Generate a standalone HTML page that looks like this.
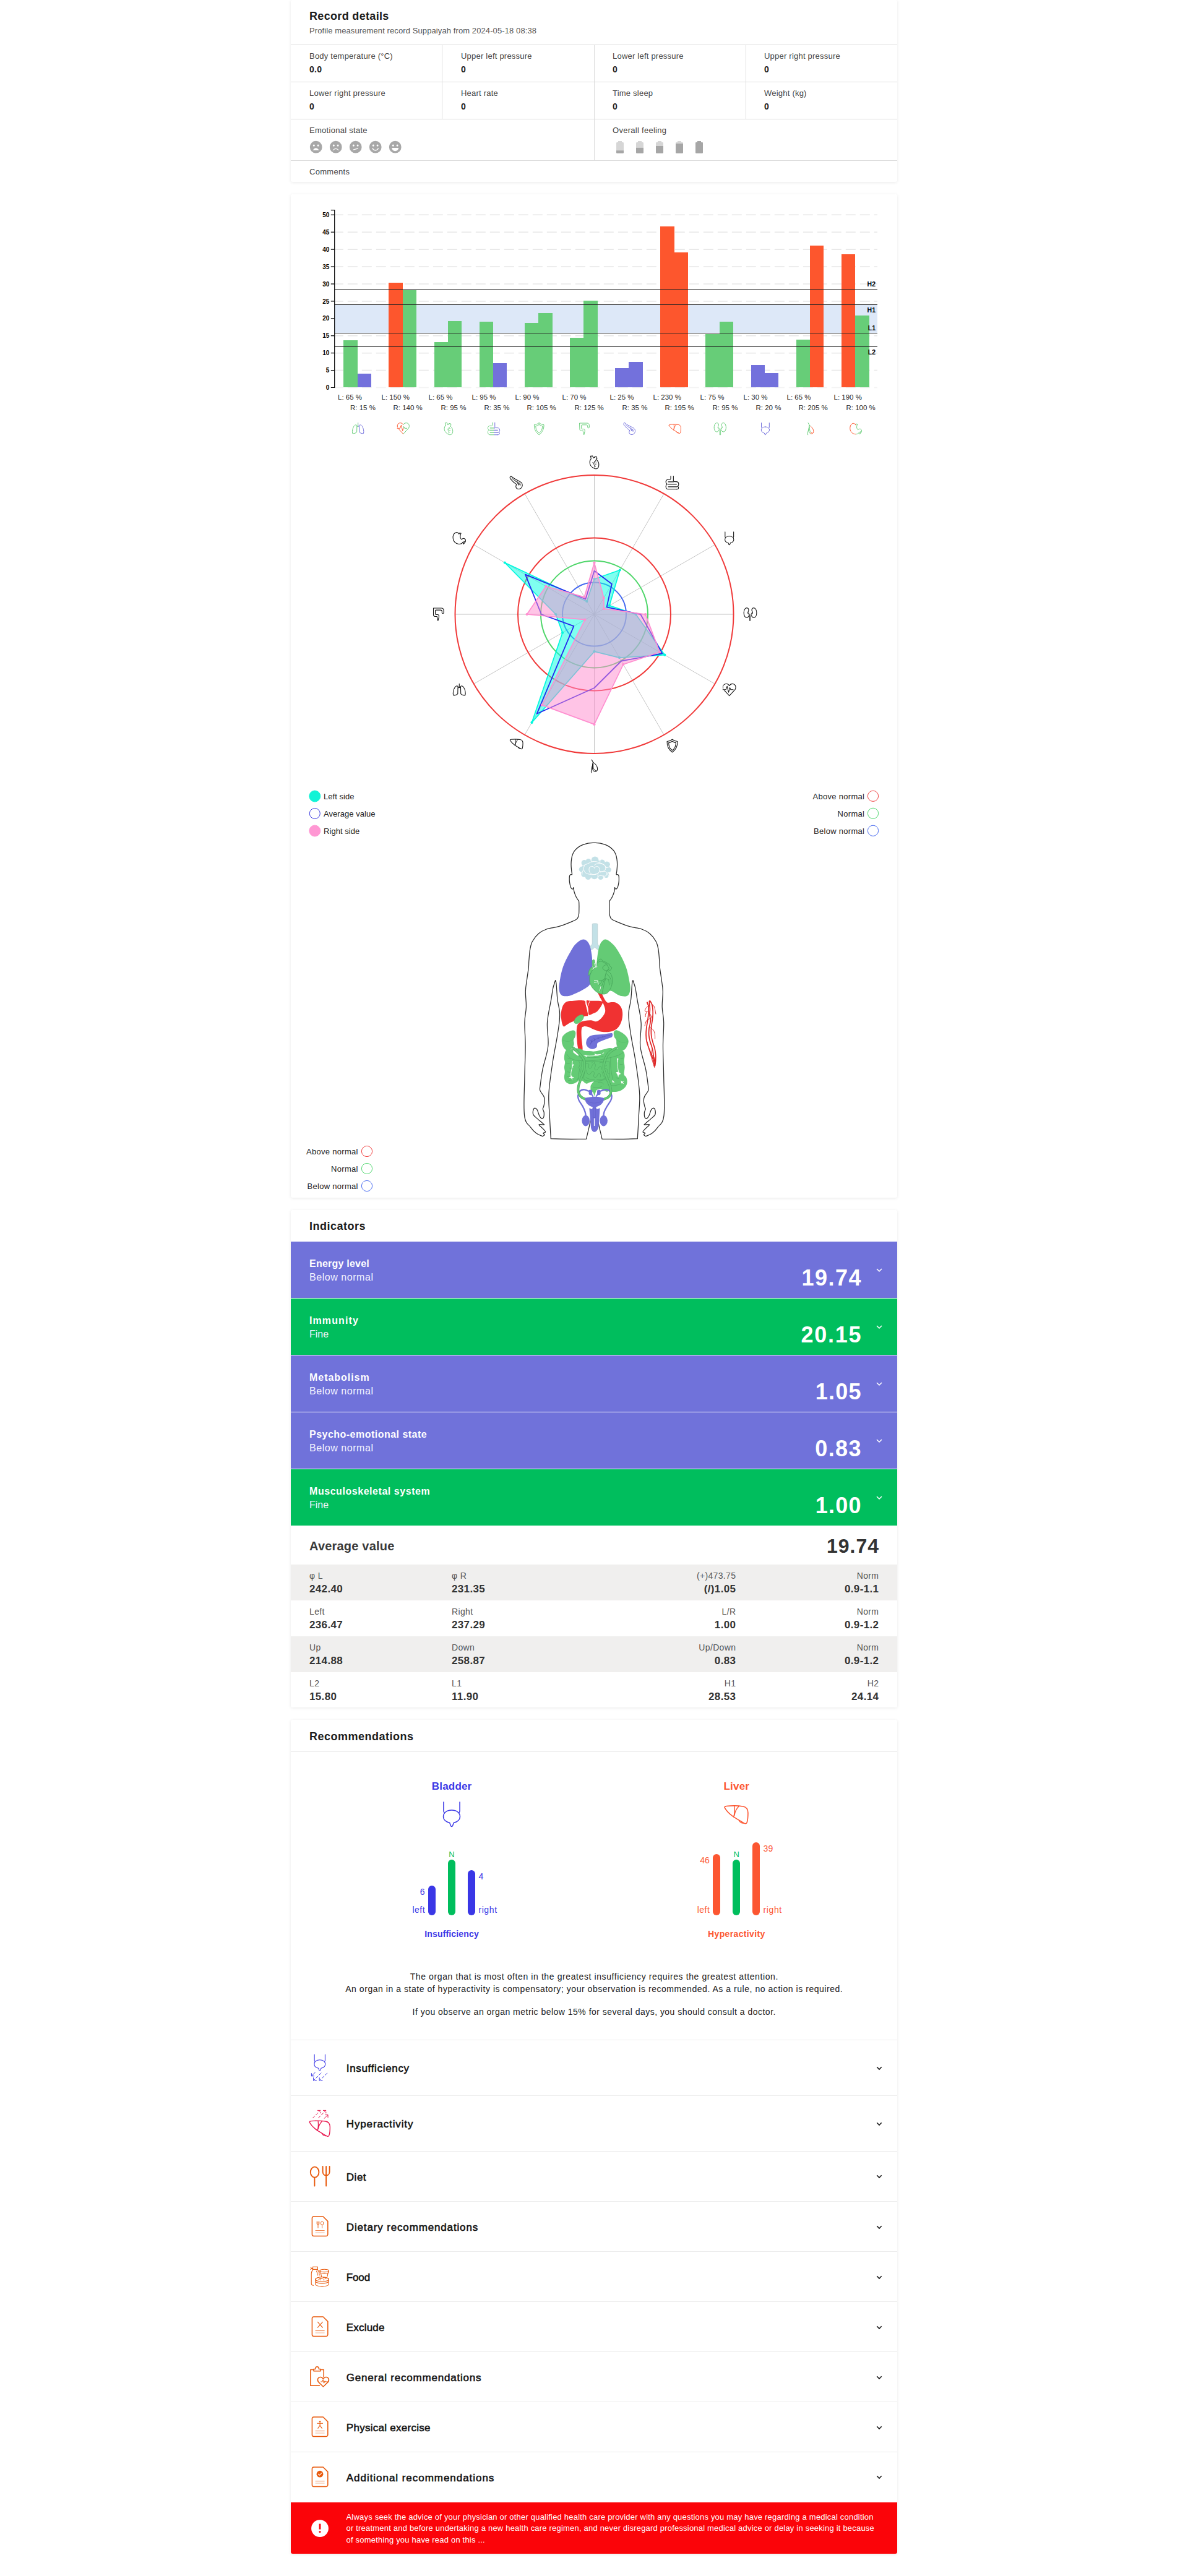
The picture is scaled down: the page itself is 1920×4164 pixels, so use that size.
<!DOCTYPE html>
<html><head><meta charset="utf-8"><title>Record details</title>
<style>
html,body{margin:0;padding:0;background:#fff;}
body{font-family:"Liberation Sans",sans-serif;}
#pg{position:relative;width:1920px;height:4164px;overflow:hidden;background:#fff;}
.t{position:absolute;white-space:nowrap;line-height:1;display:block;}
.b{position:absolute;display:block;}
</style></head>
<body><div id="pg">
<div class="b" style="left:470px;top:314px;width:980px;height:1622px;background:#fff;border-radius:3px;box-shadow:0 1px 5px rgba(0,0,0,.09);"></div>
<div class="b" style="left:470px;top:0px;width:980px;height:294px;background:#fff;border-radius:3px;box-shadow:0 1px 5px rgba(0,0,0,.09);"></div>
<span class="t" style="top:16.76px;font-size:18px;color:#1c1c1c;font-weight:700;letter-spacing:0.33px;left:500.00px;">Record details</span>
<span class="t" style="top:43.00px;font-size:13px;color:#555;letter-spacing:0.1px;left:500.00px;">Profile measurement record Suppaiyah from 2024-05-18 08:38</span>
<div class="b" style="left:470px;top:72px;width:980px;height:1px;background:#dcdcdc;"></div>
<div class="b" style="left:470px;top:132px;width:980px;height:1px;background:#dcdcdc;"></div>
<div class="b" style="left:470px;top:192px;width:980px;height:1px;background:#dcdcdc;"></div>
<div class="b" style="left:470px;top:259px;width:980px;height:1px;background:#dcdcdc;"></div>
<div class="b" style="left:714px;top:72px;width:1px;height:120px;background:#dcdcdc;"></div>
<div class="b" style="left:960px;top:72px;width:1px;height:120px;background:#dcdcdc;"></div>
<div class="b" style="left:1205px;top:72px;width:1px;height:120px;background:#dcdcdc;"></div>
<div class="b" style="left:960px;top:192px;width:1px;height:67px;background:#dcdcdc;"></div>
<span class="t" style="top:84.00px;font-size:13px;color:#444;letter-spacing:0.22px;left:500.00px;">Body temperature (°C)</span>
<span class="t" style="top:104.95px;font-size:14px;color:#222;font-weight:700;letter-spacing:0.3px;left:500.00px;">0.0</span>
<span class="t" style="top:84.00px;font-size:13px;color:#444;letter-spacing:0.22px;left:745.00px;">Upper left pressure</span>
<span class="t" style="top:104.95px;font-size:14px;color:#222;font-weight:700;letter-spacing:0.3px;left:745.00px;">0</span>
<span class="t" style="top:84.00px;font-size:13px;color:#444;letter-spacing:0.22px;left:990.00px;">Lower left pressure</span>
<span class="t" style="top:104.95px;font-size:14px;color:#222;font-weight:700;letter-spacing:0.3px;left:990.00px;">0</span>
<span class="t" style="top:84.00px;font-size:13px;color:#444;letter-spacing:0.22px;left:1235.00px;">Upper right pressure</span>
<span class="t" style="top:104.95px;font-size:14px;color:#222;font-weight:700;letter-spacing:0.3px;left:1235.00px;">0</span>
<span class="t" style="top:144.00px;font-size:13px;color:#444;letter-spacing:0.22px;left:500.00px;">Lower right pressure</span>
<span class="t" style="top:164.95px;font-size:14px;color:#222;font-weight:700;letter-spacing:0.3px;left:500.00px;">0</span>
<span class="t" style="top:144.00px;font-size:13px;color:#444;letter-spacing:0.22px;left:745.00px;">Heart rate</span>
<span class="t" style="top:164.95px;font-size:14px;color:#222;font-weight:700;letter-spacing:0.3px;left:745.00px;">0</span>
<span class="t" style="top:144.00px;font-size:13px;color:#444;letter-spacing:0.22px;left:990.00px;">Time sleep</span>
<span class="t" style="top:164.95px;font-size:14px;color:#222;font-weight:700;letter-spacing:0.3px;left:990.00px;">0</span>
<span class="t" style="top:144.00px;font-size:13px;color:#444;letter-spacing:0.22px;left:1235.00px;">Weight (kg)</span>
<span class="t" style="top:164.95px;font-size:14px;color:#222;font-weight:700;letter-spacing:0.3px;left:1235.00px;">0</span>
<span class="t" style="top:204.00px;font-size:13px;color:#444;letter-spacing:0.28px;left:500.00px;">Emotional state</span>
<span class="t" style="top:204.00px;font-size:13px;color:#444;letter-spacing:0.28px;left:990.00px;">Overall feeling</span>
<span class="t" style="top:270.50px;font-size:13px;color:#444;letter-spacing:0.3px;left:500.00px;">Comments</span>
<svg class="b" style="left:490px;top:220px" width="760" height="40" viewBox="490 220 760 40">
<circle cx="510.7" cy="237.7" r="9.9" fill="#a8a8a8"/><circle cx="507.3" cy="235.1" r="1.55" fill="#fff"/><circle cx="514.1" cy="235.1" r="1.55" fill="#fff"/><path d="M505.5 242.89999999999998Q510.7 235.5 515.9 242.89999999999998Z" fill="#fff"/>
<circle cx="542.7" cy="237.7" r="9.9" fill="#a8a8a8"/><circle cx="539.3000000000001" cy="235.1" r="1.55" fill="#fff"/><circle cx="546.1" cy="235.1" r="1.55" fill="#fff"/><path d="M538.1 242.89999999999998Q542.7 237.89999999999998 547.3000000000001 242.89999999999998" fill="none" stroke="#fff" stroke-width="1.4"/>
<circle cx="574.7" cy="237.7" r="9.9" fill="#a8a8a8"/><circle cx="571.3000000000001" cy="235.1" r="1.55" fill="#fff"/><circle cx="578.1" cy="235.1" r="1.55" fill="#fff"/><path d="M570.7 242.1L578.9000000000001 239.89999999999998" fill="none" stroke="#fff" stroke-width="1.4"/>
<circle cx="606.7" cy="237.7" r="9.9" fill="#a8a8a8"/><circle cx="603.3000000000001" cy="235.1" r="1.55" fill="#fff"/><circle cx="610.1" cy="235.1" r="1.55" fill="#fff"/><path d="M601.7 239.7Q606.7 246.29999999999998 611.7 239.7" fill="none" stroke="#fff" stroke-width="1.5"/>
<circle cx="638.7" cy="237.7" r="9.9" fill="#a8a8a8"/><circle cx="635.3000000000001" cy="235.1" r="1.55" fill="#fff"/><circle cx="642.1" cy="235.1" r="1.55" fill="#fff"/><path d="M633.1 239.1H644.3000000000001Q643.3000000000001 244.29999999999998 638.7 244.29999999999998Q634.1 244.29999999999998 633.1 239.1Z" fill="#fff"/>
<clipPath id="bc0"><path d="M999 228h6v2h1.6a1.4 1.4 0 0 1 1.4 1.4v15a1.4 1.4 0 0 1 -1.4 1.4h-9.2a1.4 1.4 0 0 1 -1.4 -1.4v-15a1.4 1.4 0 0 1 1.4 -1.4h1.6z"/></clipPath><g clip-path="url(#bc0)"><rect x="996" y="228" width="12" height="20" fill="#d6d6d6"/><rect x="996" y="243.3" width="12" height="4.699999999999989" fill="#a6a6a6"/></g>
<clipPath id="bc1"><path d="M1031 228h6v2h1.6a1.4 1.4 0 0 1 1.4 1.4v15a1.4 1.4 0 0 1 -1.4 1.4h-9.2a1.4 1.4 0 0 1 -1.4 -1.4v-15a1.4 1.4 0 0 1 1.4 -1.4h1.6z"/></clipPath><g clip-path="url(#bc1)"><rect x="1028" y="228" width="12" height="20" fill="#d6d6d6"/><rect x="1028" y="238.9" width="12" height="9.099999999999994" fill="#a6a6a6"/></g>
<clipPath id="bc2"><path d="M1063 228h6v2h1.6a1.4 1.4 0 0 1 1.4 1.4v15a1.4 1.4 0 0 1 -1.4 1.4h-9.2a1.4 1.4 0 0 1 -1.4 -1.4v-15a1.4 1.4 0 0 1 1.4 -1.4h1.6z"/></clipPath><g clip-path="url(#bc2)"><rect x="1060" y="228" width="12" height="20" fill="#d6d6d6"/><rect x="1060" y="236.0" width="12" height="12.0" fill="#a6a6a6"/></g>
<clipPath id="bc3"><path d="M1095 228h6v2h1.6a1.4 1.4 0 0 1 1.4 1.4v15a1.4 1.4 0 0 1 -1.4 1.4h-9.2a1.4 1.4 0 0 1 -1.4 -1.4v-15a1.4 1.4 0 0 1 1.4 -1.4h1.6z"/></clipPath><g clip-path="url(#bc3)"><rect x="1092" y="228" width="12" height="20" fill="#d6d6d6"/><rect x="1092" y="232.2" width="12" height="15.800000000000011" fill="#a6a6a6"/></g>
<clipPath id="bc4"><path d="M1127 228h6v2h1.6a1.4 1.4 0 0 1 1.4 1.4v15a1.4 1.4 0 0 1 -1.4 1.4h-9.2a1.4 1.4 0 0 1 -1.4 -1.4v-15a1.4 1.4 0 0 1 1.4 -1.4h1.6z"/></clipPath><g clip-path="url(#bc4)"><rect x="1124" y="228" width="12" height="20" fill="#d6d6d6"/><rect x="1124" y="228.0" width="12" height="20.0" fill="#a6a6a6"/></g>
</svg>
<svg class="b" style="left:470px;top:314px" width="980" height="420" viewBox="470 314 980 420">
<defs><linearGradient id="gfd562dfd562d" gradientUnits="userSpaceOnUse" x1="0" x2="20" y1="0" y2="0"><stop offset="0.5" stop-color="#fd562d"/><stop offset="0.5" stop-color="#fd562d"/></linearGradient><linearGradient id="g67cd78fd562d" gradientUnits="userSpaceOnUse" x1="0" x2="20" y1="0" y2="0"><stop offset="0.5" stop-color="#67cd78"/><stop offset="0.5" stop-color="#fd562d"/></linearGradient><linearGradient id="g7371dc7371dc" gradientUnits="userSpaceOnUse" x1="0" x2="20" y1="0" y2="0"><stop offset="0.5" stop-color="#7371dc"/><stop offset="0.5" stop-color="#7371dc"/></linearGradient><linearGradient id="gfd562d67cd78" gradientUnits="userSpaceOnUse" x1="0" x2="20" y1="0" y2="0"><stop offset="0.5" stop-color="#fd562d"/><stop offset="0.5" stop-color="#67cd78"/></linearGradient><linearGradient id="g67cd787371dc" gradientUnits="userSpaceOnUse" x1="0" x2="20" y1="0" y2="0"><stop offset="0.5" stop-color="#67cd78"/><stop offset="0.5" stop-color="#7371dc"/></linearGradient><linearGradient id="g67cd7867cd78" gradientUnits="userSpaceOnUse" x1="0" x2="20" y1="0" y2="0"><stop offset="0.5" stop-color="#67cd78"/><stop offset="0.5" stop-color="#67cd78"/></linearGradient></defs>
<line x1="538.8" x2="1418" y1="626.50" y2="626.50" stroke="#f3f3f3" stroke-width="1.5" stroke-dasharray="16 7"/><line x1="538.8" x2="1418" y1="598.58" y2="598.58" stroke="#e7e7e7" stroke-width="1.5" stroke-dasharray="16 7"/><line x1="538.8" x2="1418" y1="570.66" y2="570.66" stroke="#e7e7e7" stroke-width="1.5" stroke-dasharray="16 7"/><line x1="538.8" x2="1418" y1="542.74" y2="542.74" stroke="#e7e7e7" stroke-width="1.5" stroke-dasharray="16 7"/><line x1="538.8" x2="1418" y1="514.82" y2="514.82" stroke="#e7e7e7" stroke-width="1.5" stroke-dasharray="16 7"/><line x1="538.8" x2="1418" y1="486.90" y2="486.90" stroke="#e7e7e7" stroke-width="1.5" stroke-dasharray="16 7"/><line x1="538.8" x2="1418" y1="458.98" y2="458.98" stroke="#e7e7e7" stroke-width="1.5" stroke-dasharray="16 7"/><line x1="538.8" x2="1418" y1="431.06" y2="431.06" stroke="#e7e7e7" stroke-width="1.5" stroke-dasharray="16 7"/><line x1="538.8" x2="1418" y1="403.14" y2="403.14" stroke="#e7e7e7" stroke-width="1.5" stroke-dasharray="16 7"/><line x1="538.8" x2="1418" y1="375.22" y2="375.22" stroke="#e7e7e7" stroke-width="1.5" stroke-dasharray="16 7"/><line x1="538.8" x2="1418" y1="347.30" y2="347.30" stroke="#e7e7e7" stroke-width="1.5" stroke-dasharray="16 7"/>
<rect x="541" y="492.5" width="877" height="46" fill="#dde8f8"/>
<g shape-rendering="crispEdges"><rect x="555.30" y="550.00" width="22.35" height="76.00" fill="#67cd78"/><rect x="577.65" y="604.00" width="22.35" height="22.00" fill="#7371dc"/>
<rect x="628.44" y="457.03" width="22.35" height="168.97" fill="#fd562d"/><rect x="650.79" y="469.03" width="22.35" height="156.97" fill="#67cd78"/>
<rect x="701.58" y="553.01" width="22.35" height="72.99" fill="#67cd78"/><rect x="723.93" y="519.01" width="22.35" height="106.99" fill="#67cd78"/>
<rect x="774.72" y="520.01" width="22.35" height="105.99" fill="#67cd78"/><rect x="797.07" y="587.02" width="22.35" height="38.98" fill="#7371dc"/>
<rect x="847.86" y="522.08" width="22.35" height="103.92" fill="#67cd78"/><rect x="870.21" y="505.89" width="22.35" height="120.11" fill="#67cd78"/>
<rect x="921.00" y="546.09" width="22.35" height="79.91" fill="#67cd78"/><rect x="943.35" y="486.01" width="22.35" height="139.99" fill="#67cd78"/>
<rect x="994.14" y="595.01" width="22.35" height="30.99" fill="#7371dc"/><rect x="1016.49" y="585.01" width="22.35" height="40.99" fill="#7371dc"/>
<rect x="1067.28" y="366.06" width="22.35" height="259.94" fill="#fd562d"/><rect x="1089.63" y="408.17" width="22.35" height="217.83" fill="#fd562d"/>
<rect x="1140.42" y="539.95" width="22.35" height="86.05" fill="#67cd78"/><rect x="1162.77" y="520.01" width="22.35" height="105.99" fill="#67cd78"/>
<rect x="1213.56" y="590.20" width="22.35" height="35.80" fill="#7371dc"/><rect x="1235.91" y="603.05" width="22.35" height="22.95" fill="#7371dc"/>
<rect x="1286.70" y="548.88" width="22.35" height="77.12" fill="#67cd78"/><rect x="1309.05" y="397.00" width="22.35" height="229.00" fill="#fd562d"/>
<rect x="1359.84" y="410.96" width="22.35" height="215.04" fill="#fd562d"/><rect x="1382.19" y="510.02" width="22.35" height="115.98" fill="#67cd78"/>
</g><line x1="541" x2="1418" y1="467.5" y2="467.5" stroke="#222" stroke-width="1"/><line x1="541" x2="1418" y1="492.5" y2="492.5" stroke="#222" stroke-width="1"/><line x1="541" x2="1418" y1="538.5" y2="538.5" stroke="#222" stroke-width="1"/><line x1="541" x2="1418" y1="560.5" y2="560.5" stroke="#222" stroke-width="1"/>
<path d="M534.8 339.7H540.7V626.5H534.8" fill="none" stroke="#000" stroke-width="1.2"/><line x1="534.8" x2="540.7" y1="598.58" y2="598.58" stroke="#000" stroke-width="1.2"/><line x1="534.8" x2="540.7" y1="570.66" y2="570.66" stroke="#000" stroke-width="1.2"/><line x1="534.8" x2="540.7" y1="542.74" y2="542.74" stroke="#000" stroke-width="1.2"/><line x1="534.8" x2="540.7" y1="514.82" y2="514.82" stroke="#000" stroke-width="1.2"/><line x1="534.8" x2="540.7" y1="486.90" y2="486.90" stroke="#000" stroke-width="1.2"/><line x1="534.8" x2="540.7" y1="458.98" y2="458.98" stroke="#000" stroke-width="1.2"/><line x1="534.8" x2="540.7" y1="431.06" y2="431.06" stroke="#000" stroke-width="1.2"/><line x1="534.8" x2="540.7" y1="403.14" y2="403.14" stroke="#000" stroke-width="1.2"/><line x1="534.8" x2="540.7" y1="375.22" y2="375.22" stroke="#000" stroke-width="1.2"/><line x1="534.8" x2="540.7" y1="347.30" y2="347.30" stroke="#000" stroke-width="1.2"/>
<g transform="translate(568.65,683.20) scale(1.0)" fill="none" stroke="url(#g67cd787371dc)" stroke-linecap="round" stroke-linejoin="round"><path d="M10 0.3V6M10 5.3L8.1 6.6M10 5.3L11.9 6.6" stroke-width="1.00"/><path d="M8 4.3C6.6 2.9 4.6 3.6 3.2 6C1.2 9.4 0.3 13.4 1.1 17.3C3.4 17.9 6.1 17.1 7.7 15.5Z" stroke-width="1.00"/><path d="M12 4.3C13.4 2.9 15.4 3.6 16.8 6C18.8 9.4 19.7 13.4 18.9 17.3C16.6 17.9 13.9 17.1 12.3 15.5Z" stroke-width="1.00"/></g>
<g transform="translate(641.79,683.20) scale(1.0)" fill="none" stroke="url(#gfd562d67cd78)" stroke-linecap="round" stroke-linejoin="round"><path d="M0.6 7.2C-0.2 4.4 1 1.6 3.6 0.7C6 -0.1 8.6 0.9 10 3.2C11.4 0.9 14 -0.1 16.4 0.7C19.4 1.8 20.6 5.6 18.6 9L10 18.3L2.6 10.4" stroke-width="1.00"/><path d="M0.3 9.1H4.8L6.7 4L8.9 13.1L10.7 6.1L12.1 9.1H15.8" stroke-width="1.00"/></g>
<g transform="translate(714.93,683.20) scale(1.0)" fill="none" stroke="url(#g67cd7867cd78)" stroke-linecap="round" stroke-linejoin="round"><path d="M5.2 4.6L4.4 0.6L7.4 0.2L8.6 3.4L11 2.4L10.6 1.2L13.6 1.8L14 4.2L12.6 5.4C15.6 7.6 17.4 11.6 16.6 15.6C16 18.8 13.4 20.2 10.6 19.2C6.4 17.6 3 14 3.2 9.4C3.3 7.4 4 5.8 5.2 4.6Z" stroke-width="1.00"/><path d="M12.4 6.6C10.4 8.2 9.4 10.2 9.2 12.4M10.4 8.6L12.8 9.6M9.4 11L7.6 10.2M9.4 13.4L12 15.8M11 12.6L12.8 12.4M10.6 14.6L10.2 17" stroke-width="0.80"/></g>
<g transform="translate(788.07,683.20) scale(1.0)" fill="none" stroke="url(#g67cd787371dc)" stroke-linecap="round" stroke-linejoin="round"><path d="M7.7 0V3.6C7.7 4.6 7 5.2 6 5.2H3.6C1.6 5.2 0.4 6.8 0.4 8.6C0.4 10 1.1 11.2 2.3 11.9C1.1 12.6 0.4 13.8 0.4 15.4C0.4 17.8 1.8 19.6 3.8 19.6H16.2" stroke-width="1.00"/><path d="M11.7 0V6.6C11.7 7.8 12.4 8.4 13.6 8.4H16C18.2 8.4 19.6 10 19.6 12.2C19.6 13.4 19 14.6 18 15.2C19 15.8 19.4 16.6 19.4 17.4C19.4 18.6 18.2 19.6 16.2 19.6" stroke-width="1.00"/><path d="M4.2 8.6H11.6M3.6 12.1H16.2M4.2 16H17.2" stroke-width="1.30"/></g>
<g transform="translate(861.21,683.20) scale(1.0)" fill="none" stroke="url(#g67cd7867cd78)" stroke-linecap="round" stroke-linejoin="round"><path d="M10 0.4C7.6 2.2 5 3.2 2.2 3.4C2 9.4 4.2 15.6 10 19.6C15.8 15.6 18 9.4 17.8 3.4C15 3.2 12.4 2.2 10 0.4Z" stroke-width="1.00"/><path d="M10 3.2C8.2 4.4 6.4 5.2 4.6 5.4C4.6 10 6 14 10 16.8C14 14 15.4 10 15.4 5.4C13.6 5.2 11.8 4.4 10 3.2Z" stroke-width="1.00"/></g>
<g transform="translate(934.35,683.20) scale(1.0)" fill="none" stroke="url(#g67cd7867cd78)" stroke-linecap="round" stroke-linejoin="round"><path d="M2.6 0.8H14.6C17 0.8 18 2.4 18 4.6V7.6C18 9 15.4 9 15.4 7.6V5.6C15.4 4.4 14.6 3.6 13.4 3.6H6.4C5.6 3.6 5.4 4 5.4 4.8V9.4C5.4 10.2 5.8 10.4 6.6 10.4H9C10.2 10.4 10.8 11.2 10.8 12.4V14.2L9.4 19.6L8 14.4V13.2H4.8C3.4 13.2 2.6 12.2 2.6 10.8Z" stroke-width="1.00"/></g>
<g transform="translate(1007.49,683.20) scale(1.0)" fill="none" stroke="url(#g7371dc7371dc)" stroke-linecap="round" stroke-linejoin="round"><path d="M1.4 0.4C0.2 1 0.2 2.8 1 4C4 7.6 7 10.4 10.6 12.8C9 14 8.8 16.4 10.2 18C11.8 19.8 15 19.8 17 18C19.4 15.8 19.6 12.4 18 10.2C16.8 8.6 14.4 7.6 12.4 6.6C8.6 4.8 5 2.6 2.6 0.6C2.2 0.3 1.8 0.3 1.4 0.4Z" stroke-width="1.00"/><path d="M3.4 3.4C6.8 6.2 10.6 8.6 14.6 10.6C16 11.4 16.4 13 15.6 14.4M9 7L9.6 8.6M11.8 8.6L11.4 10.6M14 10.2L13 12.4M12 11L15.4 12.6M12.6 13.6L15.4 11.4" stroke-width="0.80"/></g>
<g transform="translate(1080.63,685.80) scale(1.0)" fill="none" stroke="url(#gfd562dfd562d)" stroke-linecap="round" stroke-linejoin="round"><path d="M0.6 1.6C0.4 1 1 0.4 2 0.4C6 0 12 0 15.6 0.6C18.4 1 19.8 3 19.8 6C19.8 9 19.6 11.6 19 13.6C18.6 14.8 17.6 15 16.6 14.4C13.6 12.6 10.4 10.8 7.4 8.8C4.6 6.8 2 4.2 0.6 1.6Z" stroke-width="1.00"/><path d="M8.6 0.4C9 3.6 8.8 6.6 8 9.2M12.4 0.4C10.4 2.4 9 5.4 8.6 8M12.6 12.2C13 13.8 15.2 14.6 16.4 14.2" stroke-width="0.90"/></g>
<g transform="translate(1153.77,683.20) scale(1.0)" fill="none" stroke="url(#g67cd7867cd78)" stroke-linecap="round" stroke-linejoin="round"><path d="M8.2 11.6C7.8 13.4 6.4 14.8 4.6 14.8C2 14.8 0.4 11.6 0.4 7.8C0.4 3.8 2.2 0.4 4.8 0.4C6.8 0.4 8 2.2 7.6 4.4C7.4 5.6 6.4 6.4 6.4 7.6C6.4 8.8 7.4 9.2 8 10" stroke-width="1.00"/><path d="M11.8 11.6C12.2 13.4 13.6 14.8 15.4 14.8C18 14.8 19.6 11.6 19.6 7.8C19.6 3.8 17.8 0.4 15.2 0.4C13.2 0.4 12 2.2 12.4 4.4C12.6 5.6 13.6 6.4 13.6 7.6C13.6 8.8 12.6 9.2 12 10" stroke-width="1.00"/><path d="M7.4 7.6C8.4 8.8 9.2 10.6 9.2 12.6V19.6M12.6 7.6C11.6 8.8 10.8 10.6 10.8 12.6V19.6" stroke-width="0.80"/></g>
<g transform="translate(1226.91,683.20) scale(1.0)" fill="none" stroke="url(#g7371dc7371dc)" stroke-linecap="round" stroke-linejoin="round"><path d="M3.6 0.4V7.4C3.6 8 3.8 8.4 4.2 8.8M16.4 0.4V7.4C16.4 8 16.2 8.4 15.8 8.8" stroke-width="1.00"/><path d="M10 6.8C6 6.8 3.4 9 3.4 11.8C3.4 14.4 5.6 16.2 8.4 16.8L9.2 19C9.6 20 10.4 20 10.8 19L11.6 16.8C14.4 16.2 16.6 14.4 16.6 11.8C16.6 9 14 6.8 10 6.8Z" stroke-width="1.00"/></g>
<g transform="translate(1300.05,683.20) scale(1.0)" fill="none" stroke="url(#g67cd78fd562d)" stroke-linecap="round" stroke-linejoin="round"><path d="M6 0.4L7.4 2.6C8 3.6 8.2 4.4 8 5.4C7.4 8.8 6.4 12 5.6 15.4C5.2 17 5.2 18.4 5.6 19.6" stroke-width="1.00"/><path d="M8 5C7.2 8 6.8 12 7.6 15C8.2 17.4 10.4 18.4 12.4 17.8C14.4 17.2 15 15 14.6 12.6C14 9.4 11.6 6.6 8.6 4.6M8 5L8.6 4.6" stroke-width="1.00"/><path d="M8.4 7.4C8.2 10.4 8.6 13.4 10 15.6M10 15.6L12.8 16.8" stroke-width="0.80"/></g>
<g transform="translate(1373.19,683.20) scale(1.0)" fill="none" stroke="url(#gfd562d67cd78)" stroke-linecap="round" stroke-linejoin="round"><path d="M9.6 3.6C8.6 1.6 6.6 0.6 4.6 1.4C1.6 2.6 0.4 6.2 0.6 9.6C0.8 14.2 4.4 18.4 9.4 18.6C12.6 18.6 14.6 17.6 15.4 15.6C15.8 17 16 17.8 15.8 18.6L17.4 17.6C17.2 16.4 17 15.6 17 14.4C17.6 15.2 18.4 15.6 19 15.6C19.8 13.4 19.4 11.4 17.8 10.4C16.4 9.6 14.8 10.2 13.6 11.6C12.2 10.6 11.2 8.6 11.4 6.6C11.6 5 12 3.6 12.6 2.4L10.4 2Z" stroke-width="1.00"/></g>
</svg>
<span class="t" style="top:622.13px;font-size:10px;color:#000;font-weight:700;right:1387.70px;">0</span>
<span class="t" style="top:594.22px;font-size:10px;color:#000;font-weight:700;right:1387.70px;">5</span>
<span class="t" style="top:566.29px;font-size:10px;color:#000;font-weight:700;right:1387.70px;">10</span>
<span class="t" style="top:538.38px;font-size:10px;color:#000;font-weight:700;right:1387.70px;">15</span>
<span class="t" style="top:510.46px;font-size:10px;color:#000;font-weight:700;right:1387.70px;">20</span>
<span class="t" style="top:482.54px;font-size:10px;color:#000;font-weight:700;right:1387.70px;">25</span>
<span class="t" style="top:454.62px;font-size:10px;color:#000;font-weight:700;right:1387.70px;">30</span>
<span class="t" style="top:426.70px;font-size:10px;color:#000;font-weight:700;right:1387.70px;">35</span>
<span class="t" style="top:398.78px;font-size:10px;color:#000;font-weight:700;right:1387.70px;">40</span>
<span class="t" style="top:370.86px;font-size:10px;color:#000;font-weight:700;right:1387.70px;">45</span>
<span class="t" style="top:342.94px;font-size:10px;color:#000;font-weight:700;right:1387.70px;">50</span>
<span class="t" style="top:636.77px;font-size:11.5px;color:#2a2a2a;left:546.00px;">L: 65 %</span>
<span class="t" style="top:653.67px;font-size:11.5px;color:#2a2a2a;left:566.00px;">R: 15 %</span>
<span class="t" style="top:636.77px;font-size:11.5px;color:#2a2a2a;left:616.50px;">L: 150 %</span>
<span class="t" style="top:653.67px;font-size:11.5px;color:#2a2a2a;left:635.50px;">R: 140 %</span>
<span class="t" style="top:636.77px;font-size:11.5px;color:#2a2a2a;left:692.50px;">L: 65 %</span>
<span class="t" style="top:653.67px;font-size:11.5px;color:#2a2a2a;left:712.50px;">R: 95 %</span>
<span class="t" style="top:636.77px;font-size:11.5px;color:#2a2a2a;left:762.50px;">L: 95 %</span>
<span class="t" style="top:653.67px;font-size:11.5px;color:#2a2a2a;left:782.50px;">R: 35 %</span>
<span class="t" style="top:636.77px;font-size:11.5px;color:#2a2a2a;left:832.50px;">L: 90 %</span>
<span class="t" style="top:653.67px;font-size:11.5px;color:#2a2a2a;left:851.50px;">R: 105 %</span>
<span class="t" style="top:636.77px;font-size:11.5px;color:#2a2a2a;left:908.50px;">L: 70 %</span>
<span class="t" style="top:653.67px;font-size:11.5px;color:#2a2a2a;left:928.50px;">R: 125 %</span>
<span class="t" style="top:636.77px;font-size:11.5px;color:#2a2a2a;left:985.50px;">L: 25 %</span>
<span class="t" style="top:653.67px;font-size:11.5px;color:#2a2a2a;left:1005.50px;">R: 35 %</span>
<span class="t" style="top:636.77px;font-size:11.5px;color:#2a2a2a;left:1055.50px;">L: 230 %</span>
<span class="t" style="top:653.67px;font-size:11.5px;color:#2a2a2a;left:1074.50px;">R: 195 %</span>
<span class="t" style="top:636.77px;font-size:11.5px;color:#2a2a2a;left:1131.50px;">L: 75 %</span>
<span class="t" style="top:653.67px;font-size:11.5px;color:#2a2a2a;left:1151.50px;">R: 95 %</span>
<span class="t" style="top:636.77px;font-size:11.5px;color:#2a2a2a;left:1201.50px;">L: 30 %</span>
<span class="t" style="top:653.67px;font-size:11.5px;color:#2a2a2a;left:1221.50px;">R: 20 %</span>
<span class="t" style="top:636.77px;font-size:11.5px;color:#2a2a2a;left:1271.50px;">L: 65 %</span>
<span class="t" style="top:653.67px;font-size:11.5px;color:#2a2a2a;left:1290.50px;">R: 205 %</span>
<span class="t" style="top:636.77px;font-size:11.5px;color:#2a2a2a;left:1347.50px;">L: 190 %</span>
<span class="t" style="top:653.67px;font-size:11.5px;color:#2a2a2a;left:1367.50px;">R: 100 %</span>
<span class="t" style="top:454.41px;font-size:10.5px;color:#000;font-weight:700;right:505.00px;">H2</span>
<span class="t" style="top:496.41px;font-size:10.5px;color:#000;font-weight:700;right:505.00px;">H1</span>
<span class="t" style="top:524.91px;font-size:10.5px;color:#000;font-weight:700;right:505.00px;">L1</span>
<span class="t" style="top:564.41px;font-size:10.5px;color:#000;font-weight:700;right:505.00px;">L2</span>
<svg class="b" style="left:470px;top:730px" width="980" height="540" viewBox="470 730 980 540">
<line x1="960.5" y1="993.0" x2="960.50" y2="768.00" stroke="#c4c4c4" stroke-width="1"/><line x1="960.5" y1="993.0" x2="1073.00" y2="798.14" stroke="#c4c4c4" stroke-width="1"/><line x1="960.5" y1="993.0" x2="1155.36" y2="880.50" stroke="#c4c4c4" stroke-width="1"/><line x1="960.5" y1="993.0" x2="1185.50" y2="993.00" stroke="#c4c4c4" stroke-width="1"/><line x1="960.5" y1="993.0" x2="1155.36" y2="1105.50" stroke="#c4c4c4" stroke-width="1"/><line x1="960.5" y1="993.0" x2="1073.00" y2="1187.86" stroke="#c4c4c4" stroke-width="1"/><line x1="960.5" y1="993.0" x2="960.50" y2="1218.00" stroke="#c4c4c4" stroke-width="1"/><line x1="960.5" y1="993.0" x2="848.00" y2="1187.86" stroke="#c4c4c4" stroke-width="1"/><line x1="960.5" y1="993.0" x2="765.64" y2="1105.50" stroke="#c4c4c4" stroke-width="1"/><line x1="960.5" y1="993.0" x2="735.50" y2="993.00" stroke="#c4c4c4" stroke-width="1"/><line x1="960.5" y1="993.0" x2="765.64" y2="880.50" stroke="#c4c4c4" stroke-width="1"/><line x1="960.5" y1="993.0" x2="848.00" y2="798.14" stroke="#c4c4c4" stroke-width="1"/>
<circle cx="960.5" cy="993.0" r="225" fill="none" stroke="#f03a3a" stroke-width="2"/><circle cx="960.5" cy="993.0" r="123.5" fill="none" stroke="#f03a3a" stroke-width="2"/><circle cx="960.5" cy="993.0" r="86.5" fill="none" stroke="#4fd66a" stroke-width="2"/><circle cx="960.5" cy="993.0" r="51.5" fill="none" stroke="#4468f0" stroke-width="2"/>
<polygon points="960.5,936.0 1001.8,921.5 984.9,978.9 1027.6,993.0 1074.3,1058.7 1001.0,1063.1 960.5,1053.2 859.5,1167.9 909.1,1022.7 898.2,993.0 815.8,909.5 948.3,971.9" fill="rgba(0,255,225,0.5)" stroke="#00f8de" stroke-width="1.7" stroke-linejoin="round"/><circle cx="960.5" cy="936.0" r="2.1" fill="#00f8de"/><circle cx="1001.8" cy="921.5" r="2.1" fill="#00f8de"/><circle cx="984.9" cy="978.9" r="2.1" fill="#00f8de"/><circle cx="1027.6" cy="993.0" r="2.1" fill="#00f8de"/><circle cx="1074.3" cy="1058.7" r="2.1" fill="#00f8de"/><circle cx="1001.0" cy="1063.1" r="2.1" fill="#00f8de"/><circle cx="960.5" cy="1053.2" r="2.1" fill="#00f8de"/><circle cx="859.5" cy="1167.9" r="2.1" fill="#00f8de"/><circle cx="909.1" cy="1022.7" r="2.1" fill="#00f8de"/><circle cx="898.2" cy="993.0" r="2.1" fill="#00f8de"/><circle cx="815.8" cy="909.5" r="2.1" fill="#00f8de"/><circle cx="948.3" cy="971.9" r="2.1" fill="#00f8de"/>
<polygon points="960.5,922.8 988.8,944.0 980.6,981.4 1035.3,993.0 1070.3,1056.4 1004.1,1068.5 960.5,1112.0 867.7,1153.7 927.3,1012.2 874.9,993.0 849.0,928.6 946.4,968.5" fill="none" stroke="#2626ee" stroke-width="1.8" stroke-linejoin="round"/>
<polygon points="960.5,909.7 975.8,966.5 976.2,983.9 1043.1,993.0 1066.2,1054.0 1007.3,1074.0 960.5,1170.9 875.9,1139.6 945.4,1001.7 851.6,993.0 882.3,947.8 944.4,965.1" fill="rgba(255,137,205,0.5)" stroke="#ff8fd0" stroke-width="1.7" stroke-linejoin="round"/><circle cx="960.5" cy="909.7" r="2.1" fill="#ff8fd0"/><circle cx="975.8" cy="966.5" r="2.1" fill="#ff8fd0"/><circle cx="976.2" cy="983.9" r="2.1" fill="#ff8fd0"/><circle cx="1043.1" cy="993.0" r="2.1" fill="#ff8fd0"/><circle cx="1066.2" cy="1054.0" r="2.1" fill="#ff8fd0"/><circle cx="1007.3" cy="1074.0" r="2.1" fill="#ff8fd0"/><circle cx="960.5" cy="1170.9" r="2.1" fill="#ff8fd0"/><circle cx="875.9" cy="1139.6" r="2.1" fill="#ff8fd0"/><circle cx="945.4" cy="1001.7" r="2.1" fill="#ff8fd0"/><circle cx="851.6" cy="993.0" r="2.1" fill="#ff8fd0"/><circle cx="882.3" cy="947.8" r="2.1" fill="#ff8fd0"/><circle cx="944.4" cy="965.1" r="2.1" fill="#ff8fd0"/>
<g transform="translate(949.70,736.70) scale(1.08)" fill="none" stroke="#111" stroke-linecap="round" stroke-linejoin="round"><path d="M5.2 4.6L4.4 0.6L7.4 0.2L8.6 3.4L11 2.4L10.6 1.2L13.6 1.8L14 4.2L12.6 5.4C15.6 7.6 17.4 11.6 16.6 15.6C16 18.8 13.4 20.2 10.6 19.2C6.4 17.6 3 14 3.2 9.4C3.3 7.4 4 5.8 5.2 4.6Z" stroke-width="1.00"/><path d="M12.4 6.6C10.4 8.2 9.4 10.2 9.2 12.4M10.4 8.6L12.8 9.6M9.4 11L7.6 10.2M9.4 13.4L12 15.8M11 12.6L12.8 12.4M10.6 14.6L10.2 17" stroke-width="0.80"/></g>
<g transform="translate(1075.70,769.59) scale(1.08)" fill="none" stroke="#111" stroke-linecap="round" stroke-linejoin="round"><path d="M7.7 0V3.6C7.7 4.6 7 5.2 6 5.2H3.6C1.6 5.2 0.4 6.8 0.4 8.6C0.4 10 1.1 11.2 2.3 11.9C1.1 12.6 0.4 13.8 0.4 15.4C0.4 17.8 1.8 19.6 3.8 19.6H16.2" stroke-width="1.00"/><path d="M11.7 0V6.6C11.7 7.8 12.4 8.4 13.6 8.4H16C18.2 8.4 19.6 10 19.6 12.2C19.6 13.4 19 14.6 18 15.2C19 15.8 19.4 16.6 19.4 17.4C19.4 18.6 18.2 19.6 16.2 19.6" stroke-width="1.00"/><path d="M4.2 8.6H11.6M3.6 12.1H16.2M4.2 16H17.2" stroke-width="1.30"/></g>
<g transform="translate(1167.94,859.45) scale(1.08)" fill="none" stroke="#111" stroke-linecap="round" stroke-linejoin="round"><path d="M3.6 0.4V7.4C3.6 8 3.8 8.4 4.2 8.8M16.4 0.4V7.4C16.4 8 16.2 8.4 15.8 8.8" stroke-width="1.00"/><path d="M10 6.8C6 6.8 3.4 9 3.4 11.8C3.4 14.4 5.6 16.2 8.4 16.8L9.2 19C9.6 20 10.4 20 10.8 19L11.6 16.8C14.4 16.2 16.6 14.4 16.6 11.8C16.6 9 14 6.8 10 6.8Z" stroke-width="1.00"/></g>
<g transform="translate(1201.70,982.20) scale(1.08)" fill="none" stroke="#111" stroke-linecap="round" stroke-linejoin="round"><path d="M8.2 11.6C7.8 13.4 6.4 14.8 4.6 14.8C2 14.8 0.4 11.6 0.4 7.8C0.4 3.8 2.2 0.4 4.8 0.4C6.8 0.4 8 2.2 7.6 4.4C7.4 5.6 6.4 6.4 6.4 7.6C6.4 8.8 7.4 9.2 8 10" stroke-width="1.00"/><path d="M11.8 11.6C12.2 13.4 13.6 14.8 15.4 14.8C18 14.8 19.6 11.6 19.6 7.8C19.6 3.8 17.8 0.4 15.2 0.4C13.2 0.4 12 2.2 12.4 4.4C12.6 5.6 13.6 6.4 13.6 7.6C13.6 8.8 12.6 9.2 12 10" stroke-width="1.00"/><path d="M7.4 7.6C8.4 8.8 9.2 10.6 9.2 12.6V19.6M12.6 7.6C11.6 8.8 10.8 10.6 10.8 12.6V19.6" stroke-width="0.80"/></g>
<g transform="translate(1167.94,1104.95) scale(1.08)" fill="none" stroke="#111" stroke-linecap="round" stroke-linejoin="round"><path d="M0.6 7.2C-0.2 4.4 1 1.6 3.6 0.7C6 -0.1 8.6 0.9 10 3.2C11.4 0.9 14 -0.1 16.4 0.7C19.4 1.8 20.6 5.6 18.6 9L10 18.3L2.6 10.4" stroke-width="1.00"/><path d="M0.3 9.1H4.8L6.7 4L8.9 13.1L10.7 6.1L12.1 9.1H15.8" stroke-width="1.00"/></g>
<g transform="translate(1075.70,1194.81) scale(1.08)" fill="none" stroke="#111" stroke-linecap="round" stroke-linejoin="round"><path d="M10 0.4C7.6 2.2 5 3.2 2.2 3.4C2 9.4 4.2 15.6 10 19.6C15.8 15.6 18 9.4 17.8 3.4C15 3.2 12.4 2.2 10 0.4Z" stroke-width="1.00"/><path d="M10 3.2C8.2 4.4 6.4 5.2 4.6 5.4C4.6 10 6 14 10 16.8C14 14 15.4 10 15.4 5.4C13.6 5.2 11.8 4.4 10 3.2Z" stroke-width="1.00"/></g>
<g transform="translate(949.70,1227.70) scale(1.08)" fill="none" stroke="#111" stroke-linecap="round" stroke-linejoin="round"><path d="M6 0.4L7.4 2.6C8 3.6 8.2 4.4 8 5.4C7.4 8.8 6.4 12 5.6 15.4C5.2 17 5.2 18.4 5.6 19.6" stroke-width="1.00"/><path d="M8 5C7.2 8 6.8 12 7.6 15C8.2 17.4 10.4 18.4 12.4 17.8C14.4 17.2 15 15 14.6 12.6C14 9.4 11.6 6.6 8.6 4.6M8 5L8.6 4.6" stroke-width="1.00"/><path d="M8.4 7.4C8.2 10.4 8.6 13.4 10 15.6M10 15.6L12.8 16.8" stroke-width="0.80"/></g>
<g transform="translate(823.70,1194.81) scale(1.08)" fill="none" stroke="#111" stroke-linecap="round" stroke-linejoin="round"><path d="M0.6 1.6C0.4 1 1 0.4 2 0.4C6 0 12 0 15.6 0.6C18.4 1 19.8 3 19.8 6C19.8 9 19.6 11.6 19 13.6C18.6 14.8 17.6 15 16.6 14.4C13.6 12.6 10.4 10.8 7.4 8.8C4.6 6.8 2 4.2 0.6 1.6Z" stroke-width="1.00"/><path d="M8.6 0.4C9 3.6 8.8 6.6 8 9.2M12.4 0.4C10.4 2.4 9 5.4 8.6 8M12.6 12.2C13 13.8 15.2 14.6 16.4 14.2" stroke-width="0.90"/></g>
<g transform="translate(731.46,1104.95) scale(1.08)" fill="none" stroke="#111" stroke-linecap="round" stroke-linejoin="round"><path d="M10 0.3V6M10 5.3L8.1 6.6M10 5.3L11.9 6.6" stroke-width="1.00"/><path d="M8 4.3C6.6 2.9 4.6 3.6 3.2 6C1.2 9.4 0.3 13.4 1.1 17.3C3.4 17.9 6.1 17.1 7.7 15.5Z" stroke-width="1.00"/><path d="M12 4.3C13.4 2.9 15.4 3.6 16.8 6C18.8 9.4 19.7 13.4 18.9 17.3C16.6 17.9 13.9 17.1 12.3 15.5Z" stroke-width="1.00"/></g>
<g transform="translate(697.70,982.20) scale(1.08)" fill="none" stroke="#111" stroke-linecap="round" stroke-linejoin="round"><path d="M2.6 0.8H14.6C17 0.8 18 2.4 18 4.6V7.6C18 9 15.4 9 15.4 7.6V5.6C15.4 4.4 14.6 3.6 13.4 3.6H6.4C5.6 3.6 5.4 4 5.4 4.8V9.4C5.4 10.2 5.8 10.4 6.6 10.4H9C10.2 10.4 10.8 11.2 10.8 12.4V14.2L9.4 19.6L8 14.4V13.2H4.8C3.4 13.2 2.6 12.2 2.6 10.8Z" stroke-width="1.00"/></g>
<g transform="translate(731.46,859.45) scale(1.08)" fill="none" stroke="#111" stroke-linecap="round" stroke-linejoin="round"><path d="M9.6 3.6C8.6 1.6 6.6 0.6 4.6 1.4C1.6 2.6 0.4 6.2 0.6 9.6C0.8 14.2 4.4 18.4 9.4 18.6C12.6 18.6 14.6 17.6 15.4 15.6C15.8 17 16 17.8 15.8 18.6L17.4 17.6C17.2 16.4 17 15.6 17 14.4C17.6 15.2 18.4 15.6 19 15.6C19.8 13.4 19.4 11.4 17.8 10.4C16.4 9.6 14.8 10.2 13.6 11.6C12.2 10.6 11.2 8.6 11.4 6.6C11.6 5 12 3.6 12.6 2.4L10.4 2Z" stroke-width="1.00"/></g>
<g transform="translate(823.70,769.59) scale(1.08)" fill="none" stroke="#111" stroke-linecap="round" stroke-linejoin="round"><path d="M1.4 0.4C0.2 1 0.2 2.8 1 4C4 7.6 7 10.4 10.6 12.8C9 14 8.8 16.4 10.2 18C11.8 19.8 15 19.8 17 18C19.4 15.8 19.6 12.4 18 10.2C16.8 8.6 14.4 7.6 12.4 6.6C8.6 4.8 5 2.6 2.6 0.6C2.2 0.3 1.8 0.3 1.4 0.4Z" stroke-width="1.00"/><path d="M3.4 3.4C6.8 6.2 10.6 8.6 14.6 10.6C16 11.4 16.4 13 15.6 14.4M9 7L9.6 8.6M11.8 8.6L11.4 10.6M14 10.2L13 12.4M12 11L15.4 12.6M12.6 13.6L15.4 11.4" stroke-width="0.80"/></g>
</svg>
<svg class="b" style="left:470px;top:1270px" width="980" height="660" viewBox="470 1270 980 660">
<circle cx="508.8" cy="1287" r="9" fill="#12f3d6" stroke="#12f3d6" stroke-width="1"/><circle cx="508.8" cy="1315" r="8.5" fill="#fff" stroke="#3f3fe0" stroke-width="1"/><circle cx="508.8" cy="1343" r="9" fill="#ff97d3" stroke="#ff97d3" stroke-width="1"/><circle cx="1411" cy="1286.8" r="8.6" fill="#fff" stroke="#f04242" stroke-width="1"/><circle cx="593" cy="1861" r="8.6" fill="#fff" stroke="#f04242" stroke-width="1"/><circle cx="1411" cy="1314.8" r="8.6" fill="#fff" stroke="#55d873" stroke-width="1"/><circle cx="593" cy="1889" r="8.6" fill="#fff" stroke="#55d873" stroke-width="1"/><circle cx="1411" cy="1342.8" r="8.6" fill="#fff" stroke="#4a6cf0" stroke-width="1"/><circle cx="593" cy="1917" r="8.6" fill="#fff" stroke="#4a6cf0" stroke-width="1"/></svg>
<span class="t" style="top:1280.80px;font-size:13px;color:#222;letter-spacing:0.05px;left:523.00px;">Left side</span>
<span class="t" style="top:1308.80px;font-size:13px;color:#222;letter-spacing:0.05px;left:523.00px;">Average value</span>
<span class="t" style="top:1336.80px;font-size:13px;color:#222;letter-spacing:0.05px;left:523.00px;">Right side</span>
<span class="t" style="top:1281.00px;font-size:13px;color:#222;letter-spacing:0.3px;right:522.70px;">Above normal</span>
<span class="t" style="top:1855.00px;font-size:13px;color:#222;letter-spacing:0.3px;right:1341.20px;">Above normal</span>
<span class="t" style="top:1309.00px;font-size:13px;color:#222;letter-spacing:0.3px;right:522.70px;">Normal</span>
<span class="t" style="top:1883.00px;font-size:13px;color:#222;letter-spacing:0.3px;right:1341.20px;">Normal</span>
<span class="t" style="top:1337.00px;font-size:13px;color:#222;letter-spacing:0.3px;right:522.70px;">Below normal</span>
<span class="t" style="top:1911.00px;font-size:13px;color:#222;letter-spacing:0.3px;right:1341.20px;">Below normal</span>
<svg class="b" style="left:830px;top:1350px" width="260" height="500" viewBox="830 1350 260 500">
<path d="M960.1 1362.3C958.0 1362.5 952.4 1362.7 948.5 1363.6C944.6 1364.5 941.7 1365.4 938.4 1367.1C935.1 1368.8 932.6 1370.8 930.3 1373.2C928.0 1375.5 926.9 1377.5 925.8 1380.3C924.6 1383.0 924.2 1385.2 923.7 1388.3C923.2 1391.4 923.0 1394.0 923.0 1397.4C923.0 1400.9 923.5 1404.7 923.7 1407.5C924.0 1410.4 924.6 1412.1 924.5 1413.2C924.5 1414.3 924.0 1413.6 923.4 1413.7C922.9 1413.8 922.1 1413.5 921.6 1413.9C921.1 1414.3 920.8 1414.9 920.5 1416.1C920.3 1417.3 920.2 1418.7 920.2 1420.7C920.2 1422.6 920.2 1424.4 920.6 1426.7C921.0 1429.1 921.5 1432.0 922.2 1433.8C922.9 1435.6 923.8 1436.4 924.5 1436.9C925.3 1437.4 926.0 1436.8 926.5 1436.4C926.9 1436.0 926.8 1434.0 927.1 1434.8C927.3 1435.6 927.2 1438.5 927.8 1440.9C928.4 1443.2 929.3 1445.7 930.3 1447.9C931.3 1450.2 932.4 1452.0 933.3 1453.5C934.2 1455.0 934.9 1455.0 935.4 1456.2C935.8 1457.4 935.7 1458.3 935.8 1460.1C935.8 1461.8 935.9 1463.2 935.9 1466.1C935.8 1469.0 935.9 1473.3 935.7 1476.2C935.4 1479.1 935.1 1480.5 934.3 1482.3C933.6 1484.1 933.9 1484.7 931.3 1486.3C928.8 1487.9 924.0 1489.7 920.2 1491.4C916.4 1493.0 913.7 1494.1 910.1 1495.4C906.5 1496.7 904.8 1497.2 900.0 1498.4C895.2 1499.6 888.5 1500.1 883.2 1502.0C877.9 1503.9 874.7 1505.6 870.6 1509.1C866.5 1512.6 863.0 1517.2 860.5 1521.7C858.0 1526.2 857.7 1528.8 856.7 1534.3C855.7 1539.8 855.4 1546.5 854.9 1552.0C854.4 1557.5 854.8 1559.1 854.2 1564.6C853.6 1570.1 852.6 1575.5 851.7 1582.3C850.8 1589.1 849.5 1594.3 849.3 1602.5C849.1 1610.7 850.7 1618.8 850.4 1627.9C850.1 1637.0 848.1 1641.7 847.9 1653.1C847.7 1664.5 849.1 1675.1 849.1 1691.0C849.1 1706.9 848.2 1721.3 847.9 1741.5C847.6 1761.7 845.8 1788.8 847.6 1803.3C849.4 1817.8 854.3 1817.2 857.7 1822.3C861.1 1827.4 863.2 1829.1 866.6 1831.7C870.0 1834.3 875.0 1835.9 876.8 1836.8M876.8 1836.8C877.4 1836.3 880.0 1835.2 880.2 1834.3C880.4 1833.4 877.6 1832.5 877.9 1831.7C878.2 1830.9 881.7 1831.0 881.7 1829.8C881.7 1828.6 879.8 1826.9 877.9 1824.8C876.0 1822.7 870.8 1819.1 871.0 1817.9C871.2 1816.7 878.1 1818.5 879.2 1818.2C880.3 1817.9 879.2 1817.8 877.3 1816.0C875.4 1814.2 871.2 1810.9 868.5 1808.4C865.8 1805.9 863.4 1804.4 862.1 1802.1C860.8 1799.8 861.2 1797.7 861.5 1795.8C861.8 1793.9 862.6 1791.6 863.8 1791.3C865.0 1791.0 866.7 1791.7 868.1 1793.9C869.5 1796.1 870.3 1800.7 871.6 1803.3C872.9 1805.9 874.1 1807.6 875.4 1808.1C876.7 1808.6 877.9 1807.7 878.6 1805.9C879.3 1804.1 879.4 1800.7 879.2 1798.3C879.0 1795.9 877.4 1794.3 877.3 1792.6C877.2 1790.9 878.1 1791.0 878.6 1788.8C879.1 1786.6 880.1 1783.4 880.2 1780.6C880.3 1777.8 880.5 1776.2 879.2 1773.0C877.9 1769.8 874.0 1765.9 872.9 1762.9C871.8 1759.9 872.9 1757.7 872.9 1756.6M872.9 1756.6C873.6 1751.6 874.6 1740.7 876.9 1728.9C879.2 1717.1 884.4 1704.6 885.8 1691.0C887.2 1677.4 883.6 1666.7 884.5 1653.1C885.4 1639.5 889.2 1625.2 890.8 1615.3C892.4 1605.4 892.7 1602.6 893.6 1598.0C894.5 1593.4 895.2 1592.4 895.9 1590.0C896.6 1587.6 897.3 1585.6 897.6 1584.6M897.6 1584.6C897.9 1585.6 898.4 1584.5 899.0 1590.0C899.6 1595.5 899.9 1606.2 900.9 1615.3C901.9 1624.4 904.7 1630.1 904.7 1640.5C904.7 1650.9 903.0 1659.7 900.9 1673.3C898.8 1686.9 895.8 1699.5 893.3 1716.3C890.8 1733.1 887.9 1750.9 887.0 1766.8C886.1 1782.7 887.7 1791.3 888.3 1804.6C888.9 1817.9 889.9 1834.1 890.3 1840.6M890.3 1840.6Q918.0 1842.0 947.6 1841.0M947.6 1841.0C948.3 1838.1 950.0 1830.4 951.4 1824.8C952.8 1819.2 953.6 1813.3 955.2 1809.7C956.8 1806.1 959.4 1805.8 960.3 1805.0M960.5 1362.3C962.6 1362.5 968.2 1362.7 972.1 1363.6C976.0 1364.5 978.9 1365.4 982.2 1367.1C985.5 1368.8 988.0 1370.8 990.3 1373.2C992.6 1375.5 993.7 1377.5 994.8 1380.3C996.0 1383.0 996.4 1385.2 996.9 1388.3C997.4 1391.4 997.6 1394.0 997.6 1397.4C997.6 1400.9 997.1 1404.7 996.9 1407.5C996.6 1410.4 996.0 1412.1 996.1 1413.2C996.1 1414.3 996.6 1413.6 997.2 1413.7C997.7 1413.8 998.5 1413.5 999.0 1413.9C999.5 1414.3 999.8 1414.9 1000.1 1416.1C1000.3 1417.3 1000.4 1418.7 1000.4 1420.7C1000.4 1422.6 1000.4 1424.4 1000.0 1426.7C999.6 1429.1 999.1 1432.0 998.4 1433.8C997.7 1435.6 996.8 1436.4 996.1 1436.9C995.3 1437.4 994.6 1436.8 994.1 1436.4C993.7 1436.0 993.8 1434.0 993.5 1434.8C993.3 1435.6 993.4 1438.5 992.8 1440.9C992.2 1443.2 991.3 1445.7 990.3 1447.9C989.3 1450.2 988.2 1452.0 987.3 1453.5C986.4 1455.0 985.7 1455.0 985.2 1456.2C984.8 1457.4 984.9 1458.3 984.8 1460.1C984.8 1461.8 984.7 1463.2 984.7 1466.1C984.8 1469.0 984.7 1473.3 984.9 1476.2C985.2 1479.1 985.5 1480.5 986.3 1482.3C987.0 1484.1 986.7 1484.7 989.3 1486.3C991.8 1487.9 996.6 1489.7 1000.4 1491.4C1004.2 1493.0 1006.9 1494.1 1010.5 1495.4C1014.1 1496.7 1015.8 1497.2 1020.6 1498.4C1025.4 1499.6 1032.1 1500.1 1037.4 1502.0C1042.7 1503.9 1045.9 1505.6 1050.0 1509.1C1054.1 1512.6 1057.6 1517.2 1060.1 1521.7C1062.6 1526.2 1062.9 1528.8 1063.9 1534.3C1064.9 1539.8 1065.2 1546.5 1065.7 1552.0C1066.1 1557.5 1065.8 1559.1 1066.4 1564.6C1067.0 1570.1 1068.0 1575.5 1068.9 1582.3C1069.8 1589.1 1071.1 1594.3 1071.3 1602.5C1071.5 1610.7 1069.9 1618.8 1070.2 1627.9C1070.5 1637.0 1072.5 1641.7 1072.7 1653.1C1072.9 1664.5 1071.5 1675.1 1071.5 1691.0C1071.5 1706.9 1072.4 1721.3 1072.7 1741.5C1073.0 1761.7 1074.8 1788.8 1073.0 1803.3C1071.2 1817.8 1066.3 1817.2 1062.9 1822.3C1059.5 1827.4 1057.4 1829.1 1054.0 1831.7C1050.6 1834.3 1045.6 1835.9 1043.8 1836.8M1043.8 1836.8C1043.2 1836.3 1040.6 1835.2 1040.4 1834.3C1040.2 1833.4 1043.0 1832.5 1042.7 1831.7C1042.4 1830.9 1038.9 1831.0 1038.9 1829.8C1038.9 1828.6 1040.8 1826.9 1042.7 1824.8C1044.6 1822.7 1049.8 1819.1 1049.6 1817.9C1049.4 1816.7 1042.5 1818.5 1041.4 1818.2C1040.3 1817.9 1041.4 1817.8 1043.3 1816.0C1045.2 1814.2 1049.4 1810.9 1052.1 1808.4C1054.8 1805.9 1057.2 1804.4 1058.5 1802.1C1059.8 1799.8 1059.4 1797.7 1059.1 1795.8C1058.8 1793.9 1058.0 1791.6 1056.8 1791.3C1055.6 1791.0 1053.9 1791.7 1052.5 1793.9C1051.1 1796.1 1050.3 1800.7 1049.0 1803.3C1047.7 1805.9 1046.5 1807.6 1045.2 1808.1C1043.9 1808.6 1042.7 1807.7 1042.0 1805.9C1041.3 1804.1 1041.2 1800.7 1041.4 1798.3C1041.6 1795.9 1043.2 1794.3 1043.3 1792.6C1043.4 1790.9 1042.5 1791.0 1042.0 1788.8C1041.5 1786.6 1040.5 1783.4 1040.4 1780.6C1040.3 1777.8 1040.1 1776.2 1041.4 1773.0C1042.7 1769.8 1046.6 1765.9 1047.7 1762.9C1048.8 1759.9 1047.7 1757.7 1047.7 1756.6M1047.7 1756.6C1047.0 1751.6 1046.0 1740.7 1043.7 1728.9C1041.4 1717.1 1036.2 1704.6 1034.8 1691.0C1033.4 1677.4 1037.0 1666.7 1036.1 1653.1C1035.2 1639.5 1031.4 1625.2 1029.8 1615.3C1028.2 1605.4 1027.9 1602.6 1027.0 1598.0C1026.1 1593.4 1025.4 1592.4 1024.7 1590.0C1024.0 1587.6 1023.3 1585.6 1023.0 1584.6M1023.0 1584.6C1022.7 1585.6 1022.2 1584.5 1021.6 1590.0C1021.0 1595.5 1020.7 1606.2 1019.7 1615.3C1018.7 1624.4 1015.9 1630.1 1015.9 1640.5C1015.9 1650.9 1017.6 1659.7 1019.7 1673.3C1021.8 1686.9 1024.8 1699.5 1027.3 1716.3C1029.8 1733.1 1032.7 1750.9 1033.6 1766.8C1034.5 1782.7 1032.9 1791.3 1032.3 1804.6C1031.7 1817.9 1030.7 1834.1 1030.3 1840.6M1030.3 1840.6Q1002.6 1842.0 973.0 1841.0M973.0 1841.0C972.3 1838.1 970.6 1830.4 969.2 1824.8C967.8 1819.2 967.0 1813.3 965.4 1809.7C963.8 1806.1 961.2 1805.8 960.3 1805.0" fill="none" stroke="#2a2a2a" stroke-width="1.25" stroke-linejoin="round" stroke-linecap="round"/>
<g fill="#c3e1e7"><circle cx="944.4" cy="1394.9" r="4.8"/><circle cx="951.0" cy="1392.2" r="4.2"/><circle cx="961.6" cy="1390.4" r="5.9"/><circle cx="972.9" cy="1394.2" r="4.8"/><circle cx="980.8" cy="1397.9" r="5.3"/><circle cx="983.6" cy="1406.0" r="4.2"/><circle cx="979.8" cy="1414.4" r="4.6"/><circle cx="970.7" cy="1417.4" r="4.6"/><circle cx="960.6" cy="1415.4" r="5.9"/><circle cx="950.5" cy="1417.4" r="4.6"/><circle cx="944.4" cy="1412.4" r="5.3"/><circle cx="940.4" cy="1405.3" r="4.6"/><circle cx="960.6" cy="1403.5" r="12.1"/><ellipse cx="961.3" cy="1404.2" rx="21.5" ry="13.6"/></g><g fill="none" stroke="#fff" stroke-width="1" stroke-linecap="round"><path d="M940.6 1398.6C944.4 1399.4 948.5 1396.4 952.5 1394.9C956.6 1391.4 964.6 1391.9 968.7 1394.9C972.7 1395.4 977.8 1397.4 979.8 1402.5"/><path d="M944.4 1399.4C941.4 1405.5 944.4 1412.6 952.5 1413.1C956.6 1414.6 962.6 1413.6 966.7 1411.6"/><path d="M952.5 1402.5C950.5 1407.5 953.5 1413.6 959.6 1413.6C965.7 1414.1 970.7 1409.5 968.7 1403.5C966.7 1399.4 962.6 1399.4 960.6 1403.5C959.6 1399.4 954.5 1399.4 952.5 1402.5"/><path d="M960.6 1398.4C964.6 1394.4 972.7 1395.4 976.8 1398.4C980.8 1402.5 978.8 1408.5 972.7 1409.0C970.7 1409.0 969.7 1408.5 968.7 1407.5"/><path d="M979.8 1402.5C983.8 1402.5 985.9 1400.5 985.9 1398.4M969.7 1410.1C974.7 1407.5 979.8 1407.5 980.8 1411.6C981.8 1415.6 976.8 1417.6 972.7 1415.6C970.7 1414.6 968.7 1415.6 966.7 1416.6M980.8 1411.6C982.8 1413.1 983.8 1414.6 983.3 1416.6M966.7 1411.6C965.7 1414.6 966.2 1417.6 966.7 1419.6M940.9 1413.1C940.4 1411.1 940.9 1408.5 942.4 1407.0M955.1 1390.4C955.1 1391.9 955.6 1392.9 956.6 1393.9M969.7 1394.9C969.2 1393.4 969.7 1391.9 970.7 1390.9"/></g>
<path d="M957.2 1493.6a4.3 0.8 0 0 1 8.6 0V1524c0 3 1.2 4.4 3.4 5.6l-1.6 6c-3 -1 -5 -2.6 -6.2 -5c-1.4 2.4 -3.6 4 -6.6 5l-1.6 -6c2.6 -1.2 4 -2.6 4 -5.6z" fill="#c3e1e7" stroke="#a9bcc0" stroke-width="0.5"/>
<path d="M943.1 1518.5C939.5 1518.3 935.6 1521.2 932.0 1524.5C928.4 1527.8 926.8 1530.0 922.9 1536.8C919.0 1543.6 913.6 1553.0 910.3 1562.1C907.0 1571.2 905.6 1580.4 904.4 1587.3C903.2 1594.2 903.2 1596.7 903.7 1600.5C904.2 1604.3 905.3 1606.8 907.3 1608.6C909.3 1610.4 912.0 1610.3 915.0 1610.3C918.0 1610.3 919.2 1610.4 924.0 1608.6C928.8 1606.8 936.5 1603.3 941.8 1600.1C947.1 1596.9 951.0 1595.0 953.6 1591.0C956.2 1587.0 955.8 1583.2 956.4 1578.0C957.0 1572.8 957.2 1568.4 957.2 1562.1C957.2 1555.8 957.3 1549.7 956.3 1543.1C955.3 1536.5 954.3 1529.9 951.9 1525.5C949.5 1521.1 946.7 1518.7 943.1 1518.5Z" fill="#7070d8"/><path d="M979.1 1518.5C982.0 1519.0 985.1 1521.2 988.6 1524.5C992.1 1527.8 994.5 1530.0 998.6 1536.8C1002.7 1543.6 1007.9 1553.0 1011.3 1562.1C1014.7 1571.2 1016.1 1580.3 1017.4 1587.3C1018.7 1594.3 1018.9 1597.0 1018.3 1601.0C1017.7 1605.0 1016.4 1607.9 1014.2 1609.6C1012.0 1611.3 1008.8 1610.6 1006.0 1610.3C1003.2 1610.0 1002.2 1609.5 998.6 1607.9C995.0 1606.3 990.5 1601.6 986.0 1601.4C981.5 1601.2 977.1 1607.6 973.5 1606.6C969.9 1605.6 967.6 1604.0 966.0 1596.0C964.4 1588.0 964.7 1571.2 964.6 1562.0C964.5 1552.8 964.9 1550.8 965.6 1545.0C966.3 1539.2 967.3 1534.1 968.6 1530.0C969.9 1525.9 970.7 1524.1 972.6 1522.0C974.5 1519.9 976.2 1518.0 979.1 1518.5Z" fill="#64cb75"/>
<path d="M965.8 1602.6C966.2 1601.3 969.1 1600.9 970.8 1602.6C972.5 1604.3 973.6 1608.8 975.4 1612.0C977.2 1615.2 978.7 1618.9 981.0 1620.3C983.3 1621.7 985.3 1619.9 988.0 1620.0C990.7 1620.1 993.3 1619.5 996.1 1620.9C998.9 1622.3 1001.9 1624.4 1003.7 1627.9C1005.5 1631.4 1006.4 1635.5 1006.2 1640.5C1006.0 1645.5 1004.9 1651.1 1002.4 1655.7C999.9 1660.3 997.1 1663.5 992.3 1665.8C987.5 1668.1 981.6 1668.5 975.9 1668.3C970.2 1668.1 965.3 1666.0 960.8 1664.5C956.3 1663.0 953.9 1661.0 950.7 1660.1C947.5 1659.2 945.0 1658.8 943.1 1659.4C941.2 1660.0 940.5 1659.8 939.9 1663.2C939.3 1666.6 939.6 1672.3 939.9 1678.4C940.2 1684.5 942.3 1694.1 941.4 1697.3C940.5 1700.5 936.5 1699.5 934.9 1696.1C933.3 1692.7 932.8 1684.8 932.3 1678.4C931.8 1672.0 931.5 1665.3 932.3 1660.7C933.1 1656.1 934.4 1655.0 936.8 1653.1C939.2 1651.2 942.2 1650.7 945.6 1650.0C949.0 1649.3 952.5 1649.1 955.7 1649.3C958.9 1649.5 960.6 1651.7 963.3 1651.2C966.0 1650.8 968.4 1649.2 970.9 1646.8C973.4 1644.4 976.0 1641.0 977.2 1638.0C978.4 1635.0 978.5 1633.8 977.8 1630.4C977.1 1627.0 975.1 1622.7 973.4 1619.0C971.7 1615.3 970.0 1613.0 968.6 1610.0C967.2 1607.0 965.4 1603.9 965.8 1602.6Z" fill="#f03232"/>
<path d="M914.0 1620.3C917.4 1617.8 921.2 1618.3 926.7 1617.8C932.2 1617.3 941.0 1616.6 944.6 1617.7C948.2 1618.8 945.6 1619.9 946.6 1624.0C947.6 1628.1 950.8 1637.2 950.4 1640.6C950.0 1644.0 948.3 1641.2 944.3 1643.0C940.2 1644.8 932.0 1648.8 927.9 1650.6C923.8 1652.4 923.9 1652.0 921.6 1653.1C919.3 1654.2 917.3 1655.9 915.3 1656.9C913.3 1657.9 911.8 1660.6 910.3 1658.8C908.8 1657.0 907.6 1651.7 907.1 1646.8C906.6 1641.9 906.5 1636.5 907.7 1631.7C908.9 1626.9 910.6 1622.8 914.0 1620.3Z" fill="#f03232"/><path d="M947.8 1618.2C948.4 1616.0 949.4 1617.8 953.8 1617.8C958.2 1617.8 968.6 1617.5 972.1 1618.4C975.6 1619.3 974.5 1620.0 973.4 1622.8C972.3 1625.6 968.6 1631.4 965.8 1634.2C963.0 1637.0 960.6 1637.3 958.0 1638.4C955.4 1639.5 952.9 1641.7 951.6 1640.2C950.3 1638.7 951.3 1634.0 950.6 1630.0C949.9 1626.0 947.2 1620.4 947.8 1618.2Z" fill="#f03232"/><path d="M946.2 1618L951 1640.4M953 1618.4L950.2 1626" stroke="#fff" stroke-width="0.9" fill="none"/>
<ellipse cx="935.6" cy="1647.6" rx="9.4" ry="5" transform="rotate(-41 935.6 1647.6)" fill="#64cb75" stroke="#53b565" stroke-width="0.4"/>
<path d="M947.5 1683.4C948.0 1681.1 948.8 1678.9 950.7 1677.1C952.6 1675.3 954.1 1674.2 958.2 1673.3C962.3 1672.4 968.4 1672.7 973.4 1672.1C978.4 1671.5 983.0 1670.4 986.0 1670.2C989.0 1670.0 989.2 1669.8 989.8 1670.8C990.4 1671.8 990.3 1674.5 989.2 1675.9C988.1 1677.3 986.3 1677.3 983.5 1678.4C980.7 1679.5 976.6 1680.8 973.4 1682.2C970.2 1683.6 967.4 1684.2 965.8 1686.0C964.2 1687.8 965.6 1690.6 964.5 1692.3C963.4 1694.0 961.5 1695.0 959.5 1695.4C957.5 1695.9 955.3 1695.8 953.2 1694.8C951.1 1693.8 949.1 1691.9 948.1 1689.8C947.1 1687.7 947.0 1685.7 947.5 1683.4Z" fill="#7070d8"/><path d="M953.6 1689.6C955 1682 962 1678.4 986 1673.4M954 1682L957.4 1684M959 1677.6L962 1680.6M965.6 1676L968 1678.8M972.6 1674.4L974.8 1677.4M957 1680.4L955.4 1686.4M961.4 1679.4L960 1683.4" stroke="#4e4eb4" stroke-width="0.6" fill="none"/>
<path d="M908.4 1678.4C909.2 1675.0 910.9 1673.1 914.0 1670.8C917.1 1668.5 922.6 1666.2 925.4 1665.8C928.2 1665.3 929.1 1666.5 929.8 1668.3C930.5 1670.1 929.8 1673.6 929.2 1675.9C928.6 1678.2 927.0 1678.6 926.7 1680.9C926.4 1683.2 928.0 1685.8 927.3 1688.5C926.6 1691.2 925.1 1694.5 922.9 1696.1C920.7 1697.7 917.7 1698.4 915.3 1697.3C912.9 1696.2 910.8 1693.2 909.6 1689.8C908.4 1686.4 907.6 1681.8 908.4 1678.4Z" fill="#64cb75" stroke="#53b565" stroke-width="0.4"/><path d="M992.3 1668.3C993.1 1666.5 994.4 1665.1 997.4 1665.8C1000.4 1666.5 1005.5 1669.4 1008.7 1672.1C1011.9 1674.8 1014.2 1677.7 1015.1 1680.9C1016.0 1684.1 1015.1 1686.8 1013.8 1689.8C1012.5 1692.8 1010.6 1696.2 1008.1 1697.3C1005.6 1698.4 1002.0 1697.7 999.9 1696.1C997.8 1694.5 997.4 1691.2 996.7 1688.5C996.0 1685.8 996.8 1683.2 996.1 1680.9C995.4 1678.6 993.7 1678.2 993.0 1675.9C992.3 1673.6 991.5 1670.1 992.3 1668.3Z" fill="#64cb75" stroke="#53b565" stroke-width="0.4"/><path d="M909.4 1681C915 1684.6 922 1684 927 1680M1014.6 1683C1009 1686.6 1001.4 1685 996.6 1680.6" stroke="#53b565" stroke-width="0.5" fill="none"/>
<path d="M915.2 1697.6C913.8 1698.7 913.2 1700.7 912.6 1703.2C912.0 1705.6 911.8 1708.7 911.9 1711.3C912.0 1713.8 913.1 1714.8 913.1 1717.3C913.1 1719.9 912.0 1722.7 911.9 1725.4C911.9 1728.1 912.9 1729.6 912.9 1732.5C912.9 1735.4 911.7 1738.7 911.9 1741.6C912.1 1744.5 912.7 1746.7 914.1 1748.6C915.6 1750.5 917.7 1751.7 920.2 1752.2C922.7 1752.6 925.7 1752.0 928.3 1751.2C930.8 1750.3 932.7 1748.8 934.3 1747.6C936.0 1746.5 936.1 1744.7 937.6 1744.8C939.0 1744.9 940.6 1746.9 942.4 1748.1C944.2 1749.4 945.5 1751.4 947.5 1751.7C949.5 1751.9 951.4 1750.3 953.5 1749.6C955.7 1749.0 959.1 1747.8 959.6 1748.1C960.1 1748.5 957.5 1750.3 956.6 1751.7C955.7 1753.0 954.8 1753.7 954.5 1755.7C954.3 1757.7 954.3 1761.0 955.1 1762.8C955.8 1764.6 957.6 1764.3 958.6 1765.8C959.6 1767.3 959.9 1771.1 960.6 1771.1C961.3 1771.1 961.9 1767.4 962.6 1765.8C963.4 1764.2 963.2 1763.0 964.6 1762.0C966.1 1761.0 967.8 1759.8 970.7 1760.4C973.6 1760.9 978.4 1764.3 980.8 1764.8C983.2 1765.3 982.0 1762.9 983.8 1763.0C985.7 1763.0 987.8 1764.9 990.9 1765.0C994.0 1765.1 997.6 1765.1 1001.0 1763.8C1004.5 1762.5 1007.8 1760.3 1010.1 1757.7C1012.4 1755.2 1013.3 1752.6 1013.6 1749.6C1014.0 1746.7 1013.0 1743.9 1012.1 1741.6C1011.2 1739.2 1009.0 1739.4 1008.6 1736.5C1008.1 1733.6 1009.6 1729.2 1009.6 1725.4C1009.6 1721.6 1008.6 1718.9 1008.6 1715.3C1008.6 1711.7 1009.9 1708.1 1009.6 1705.2C1009.3 1702.3 1008.6 1701.0 1007.1 1699.1C1005.5 1697.3 1003.2 1695.6 1001.0 1695.1C998.8 1694.6 997.7 1696.3 994.9 1696.1C992.2 1695.9 989.1 1694.1 985.9 1694.1C982.6 1694.1 979.9 1695.4 976.8 1696.1C973.7 1696.8 971.6 1697.5 968.7 1698.1C965.8 1698.8 963.5 1699.5 960.6 1699.6C957.7 1699.8 955.4 1699.3 952.5 1699.1C949.6 1699.0 947.0 1699.3 944.4 1698.6C941.9 1698.0 940.9 1696.3 938.4 1695.6C935.8 1694.9 932.7 1694.6 930.3 1694.6C927.9 1694.6 927.1 1695.2 925.3 1695.6C923.4 1696.1 922.0 1696.8 920.2 1697.1C918.4 1697.5 916.5 1696.5 915.2 1697.6Z" fill="#64cb75"/><g fill="none" stroke="#4aa35d" stroke-width="0.55" stroke-linecap="round"><path d="M916.2 1704.2C918.2 1708.2 923.2 1712.3 930.3 1713.8C934.3 1714.3 938.4 1714.3 941.4 1714.8"/><path d="M934.8 1706.2C937.4 1709.2 940.4 1711.3 942.4 1714.3"/><path d="M941.4 1714.8C952.5 1715.3 964.6 1714.3 976.8 1711.8C983.8 1710.3 990.9 1708.7 997.0 1706.7"/><path d="M948.5 1709.2C956.6 1710.3 966.7 1709.7 974.7 1707.7"/><path d="M997.0 1706.7C1001.0 1705.2 1005.1 1703.2 1007.1 1701.2"/><path d="M986.9 1709.2C986.4 1719.3 986.9 1729.4 988.9 1737.5C989.9 1741.6 990.9 1745.6 989.9 1749.6"/><path d="M935.4 1715.3C938.4 1718.3 937.4 1722.4 935.4 1725.4C937.4 1728.4 936.4 1732.5 934.8 1735.5C936.4 1738.5 935.4 1742.6 932.3 1745.6"/><path d="M940.4 1715.3C939.4 1719.3 940.4 1722.4 938.9 1725.4C939.9 1728.4 938.4 1731.5 937.4 1735.5"/><path d="M945.5 1716.3L984.8 1716.3L984.8 1741.6C976.8 1747.6 956.6 1749.6 944.4 1745.6C942.4 1741.6 944.4 1735.5 945.5 1731.5Z"/><path d="M947.5 1719.3C950.5 1717.8 952.5 1719.8 951.5 1722.9C950.5 1725.9 952.5 1727.9 955.1 1726.4C957.1 1724.4 956.6 1720.4 959.6 1719.3C962.6 1718.8 963.1 1722.4 961.6 1724.9C960.1 1727.9 961.6 1730.5 964.6 1729.4C967.2 1728.4 966.7 1724.9 969.7 1723.9C972.2 1723.4 973.2 1726.4 971.7 1728.9"/><path d="M948.5 1729.4C947.5 1733.5 949.5 1737.5 952.5 1737.0C955.6 1736.0 955.1 1732.5 957.6 1732.0C960.6 1731.5 961.1 1735.5 959.6 1738.0C958.6 1740.6 961.1 1742.6 963.6 1741.1C965.7 1739.5 965.2 1736.0 967.7 1735.5C970.7 1735.0 971.2 1738.5 970.2 1741.1"/><path d="M956.6 1718.3C957.1 1715.3 960.6 1715.8 961.1 1718.3M968.7 1718.3C970.7 1716.3 974.7 1716.8 975.3 1720.4C975.8 1723.4 978.8 1723.9 980.8 1721.9M976.8 1727.4C979.8 1726.4 982.3 1728.4 981.8 1731.5C981.3 1734.5 982.8 1736.5 984.8 1735.5M972.7 1732.5C974.7 1735.5 974.2 1739.5 976.8 1741.1C979.3 1742.1 980.8 1740.1 980.8 1737.5"/><path d="M947.0 1741.6C950.5 1744.6 956.6 1745.6 960.6 1744.6M964.6 1745.1C970.7 1745.6 977.8 1744.1 982.8 1741.6"/><path d="M958.6 1757.2C964.6 1759.2 969.7 1758.2 972.7 1755.7M966.7 1749.6C970.7 1748.6 973.7 1749.6 975.3 1752.2M987.9 1754.7C993.9 1755.7 1001.0 1753.7 1006.1 1749.6M1006.1 1749.6L1008.6 1751.7"/><path d="M917.7 1710.3L921.7 1711.8M915.2 1718.3L920.2 1719.3M920.7 1726.4L924.2 1727.9M916.7 1732.5L921.7 1733.5M917.2 1740.1L921.7 1739.5M918.7 1746.6L923.7 1745.6M932.3 1745.6L935.4 1743.1M994.9 1732.5L999.5 1734.5M995.5 1742.1L1000.0 1743.6M1002.0 1720.4L1006.1 1720.9M1003.0 1711.3L1007.1 1710.3"/></g><g fill="#fff"><path d="M925.8 1697.6L930.3 1700.2L935.6 1705.2L934.3 1706.8L929.3 1703.4L926.8 1701.2Z"/><path d="M942.4 1705.0L947.5 1705.7L949.5 1707.4L947.5 1708.2Z"/><path d="M989.4 1745.4L993.4 1749.8L989.7 1749.6Z"/><path d="M997.0 1710.3L999.5 1711.5L998.5 1715.3L997.8 1718.3Z"/><path d="M998.5 1732.5L1002.0 1734.3L1003.2 1736.0L1000.0 1737.5L999.2 1741.6L998.0 1737.5L995.5 1733.5Z"/><path d="M1003.0 1746.6L1006.1 1748.4L1009.3 1747.1L1006.6 1749.6L1008.6 1752.5L1005.1 1750.7L1003.5 1751.9L1004.0 1749.2Z"/><path d="M922.7 1737.5L924.7 1740.4L928.3 1741.8L924.7 1742.8L925.3 1746.6L923.0 1742.8L919.2 1741.6L922.4 1740.4Z"/><path d="M925.8 1719.8L927.8 1721.4L925.3 1723.4L926.5 1726.4L924.2 1723.9Z"/><path d="M960.6 1703.0L964.6 1704.4L970.7 1704.0L966.7 1706.4L961.6 1705.8Z"/><path d="M976.8 1700.2L974.7 1703.7L972.2 1704.2L974.7 1702.2Z"/></g><g fill="none" stroke="#fff" stroke-width="0.9" stroke-linecap="round"><path d="M925.3 1715.3C924.0 1719.3 925.5 1723.4 924.2 1727.4C923.0 1732.5 921.7 1737.5 923.7 1741.6"/><path d="M947.5 1706.7C954.5 1707.4 962.6 1707.0 970.7 1704.4"/><path d="M997.5 1715.3C998.5 1721.4 997.8 1727.4 1000.0 1733.5"/><path d="M964.6 1762.6C969.7 1763.0 975.8 1764.8 980.8 1765.8"/></g>
<path d="M953.2 1764.5C951.6 1763.9 947.0 1761.5 944.3 1761.3C941.6 1761.1 939.8 1761.5 938.0 1763.2C936.2 1764.9 934.7 1768.1 934.2 1770.8C933.8 1773.5 934.1 1775.2 935.5 1778.4C936.9 1781.6 940.0 1785.1 941.8 1788.5C943.6 1791.9 944.7 1794.4 945.6 1797.3C946.5 1800.2 946.7 1803.2 946.9 1804.5" fill="none" stroke="#7070d8" stroke-width="2.3" stroke-linecap="round"/><path d="M968.3 1764.5C970.1 1763.9 975.4 1761.5 978.4 1761.3C981.4 1761.1 982.9 1761.5 984.7 1763.2C986.5 1764.9 988.0 1768.1 988.5 1770.8C989.0 1773.5 988.6 1775.2 987.3 1778.4C985.9 1781.6 982.9 1785.1 981.0 1788.5C979.1 1791.9 977.5 1794.4 976.5 1797.3C975.5 1800.2 975.5 1803.2 975.3 1804.5" fill="none" stroke="#7070d8" stroke-width="2.3" stroke-linecap="round"/><path d="M926.7 1693.8C928.7 1695.9 934.8 1701.3 938.0 1705.2C941.2 1709.1 943.2 1711.2 944.3 1715.3C945.4 1719.4 945.2 1722.9 944.3 1727.9C943.4 1732.9 941.0 1738.0 939.3 1743.0C937.6 1748.0 935.7 1751.6 934.9 1755.7C934.1 1759.8 934.1 1762.6 934.9 1765.8C935.7 1769.0 937.1 1771.3 939.3 1773.3C941.5 1775.3 945.5 1776.4 946.9 1777.1" fill="none" stroke="#48a25b" stroke-width="3.9" stroke-linecap="round"/><path d="M926.7 1693.8C928.7 1695.9 934.8 1701.3 938.0 1705.2C941.2 1709.1 943.2 1711.2 944.3 1715.3C945.4 1719.4 945.2 1722.9 944.3 1727.9C943.4 1732.9 941.0 1738.0 939.3 1743.0C937.6 1748.0 935.7 1751.6 934.9 1755.7C934.1 1759.8 934.1 1762.6 934.9 1765.8C935.7 1769.0 937.1 1771.3 939.3 1773.3C941.5 1775.3 945.5 1776.4 946.9 1777.1" fill="none" stroke="#64cb75" stroke-width="2.8" stroke-linecap="round"/><path d="M996.1 1693.8C993.8 1695.4 986.9 1698.7 983.5 1702.6C980.1 1706.5 978.6 1710.7 977.2 1715.3C975.8 1719.9 975.2 1722.9 975.9 1727.9C976.6 1732.9 979.2 1738.0 981.0 1743.0C982.8 1748.0 984.9 1751.6 986.0 1755.7C987.1 1759.8 987.8 1762.6 987.3 1765.8C986.8 1769.0 985.7 1771.3 983.5 1773.3C981.3 1775.3 976.8 1776.4 975.3 1777.1" fill="none" stroke="#48a25b" stroke-width="3.9" stroke-linecap="round"/><path d="M996.1 1693.8C993.8 1695.4 986.9 1698.7 983.5 1702.6C980.1 1706.5 978.6 1710.7 977.2 1715.3C975.8 1719.9 975.2 1722.9 975.9 1727.9C976.6 1732.9 979.2 1738.0 981.0 1743.0C982.8 1748.0 984.9 1751.6 986.0 1755.7C987.1 1759.8 987.8 1762.6 987.3 1765.8C986.8 1769.0 985.7 1771.3 983.5 1773.3C981.3 1775.3 976.8 1776.4 975.3 1777.1" fill="none" stroke="#64cb75" stroke-width="2.8" stroke-linecap="round"/>
<ellipse cx="946.7" cy="1811.6" rx="6.3" ry="8.8" fill="#7070d8"/><ellipse cx="975.6" cy="1811.6" rx="6.3" ry="8.8" fill="#7070d8"/><rect x="951.6" y="1761.6" width="5.6" height="8.6" rx="2.4" fill="#7070d8"/><rect x="965" y="1761.6" width="5.6" height="8.6" rx="2.4" fill="#7070d8"/><path d="M956 1768.6L958.6 1772.6M966 1768.6L963.4 1772.6" stroke="#7070d8" stroke-width="2"/><path d="M945.6 1777.1C945.4 1775.5 944.2 1775.4 946.9 1774.6C949.6 1773.8 955.8 1772.7 960.8 1772.7C965.8 1772.7 971.9 1773.6 974.6 1774.6C977.3 1775.6 976.4 1776.6 975.9 1778.4C975.4 1780.2 973.9 1782.9 972.1 1784.7C970.3 1786.5 967.8 1787.6 965.8 1788.5C963.8 1789.4 962.7 1789.7 960.8 1789.7C958.9 1789.7 957.4 1789.6 955.1 1788.5C952.8 1787.4 949.8 1785.5 948.1 1783.4C946.4 1781.3 945.8 1778.7 945.6 1777.1Z" fill="#7070d8"/><path d="M948 1778.6C954 1784.6 967 1784.6 973.6 1778.6" stroke="#5c5cc4" stroke-width="0.5" fill="none"/><path d="M952.4 1791.3L957 1793L958.2 1789H963L964.4 1793L969.5 1791.3L967.6 1821C966.6 1826 963.6 1829.8 961 1829.8C957.6 1829.8 955.6 1826.6 955 1822Z" fill="#7070d8"/><path d="M958.6 1791V1806.6H962.4V1791" stroke="#5c5cc4" stroke-width="0.5" fill="none"/><path d="M960.5 1807.6V1820" stroke="#fff" stroke-width="1.2"/>
<path d="M957.3 1553.0C957.8 1550.9 959.8 1551.2 960.5 1551.7C961.3 1552.2 961.2 1554.0 961.5 1555.8C961.8 1557.5 962.9 1560.1 962.3 1561.4C961.7 1562.8 959.1 1564.9 958.2 1563.3C957.3 1561.8 956.9 1555.1 957.3 1553.0Z" fill="#64cb75" stroke="#3f9c53" stroke-width="0.5"/><path d="M957.2 1562.7C956.4 1562.4 954.2 1564.9 953.2 1566.5C952.1 1568.1 951.8 1569.7 951.4 1571.5C951.1 1573.4 950.7 1576.5 951.2 1577.0C951.7 1577.4 953.0 1575.6 954.2 1574.1C955.4 1572.5 957.1 1570.4 957.6 1568.4C958.1 1566.3 958.0 1563.0 957.2 1562.7Z" fill="#64cb75" stroke="#3f9c53" stroke-width="0.5"/><path d="M964.3 1562.1C965.0 1560.3 964.6 1556.0 965.8 1553.9C967.0 1551.7 969.4 1550.4 970.9 1550.2C972.3 1550.0 972.7 1552.0 973.6 1552.7C974.6 1553.5 974.9 1553.9 976.2 1554.5C977.4 1555.0 979.5 1555.1 980.5 1555.8C981.4 1556.4 980.7 1557.8 981.5 1558.3C982.2 1558.7 983.9 1557.6 984.7 1558.3C985.6 1559.0 985.3 1561.0 986.0 1562.1C986.7 1563.2 988.8 1563.2 988.8 1564.3C988.8 1565.5 987.1 1568.1 986.0 1568.6C984.9 1569.2 983.3 1567.2 982.5 1567.4C981.7 1567.5 981.0 1568.4 981.6 1569.4C982.2 1570.4 984.7 1571.1 986.0 1572.8C987.4 1574.6 988.4 1576.3 989.0 1579.1C989.7 1582.0 990.0 1585.1 989.5 1588.6C989.0 1592.1 987.8 1595.6 986.3 1598.7C984.7 1601.7 983.3 1604.0 981.0 1605.5C978.6 1607.0 976.1 1607.2 973.4 1607.0C970.7 1606.8 968.5 1606.2 965.8 1604.5C963.1 1602.8 960.4 1600.3 958.2 1597.7C956.1 1595.1 954.9 1593.0 953.9 1590.1C953.0 1587.2 952.9 1584.5 952.9 1581.6C953.0 1578.8 953.2 1577.1 954.2 1574.4C955.1 1571.8 956.8 1569.1 958.2 1567.1C959.6 1565.2 960.9 1564.5 962.0 1563.6C963.1 1562.7 963.6 1563.8 964.3 1562.1Z" fill="#64cb75" stroke="#3f9c53" stroke-width="0.7"/><g fill="none" stroke="#3f9c53" stroke-width="0.75"><path d="M966.8 1555.8C969.6 1552.6 973.4 1553.9 975.3 1555.8C977.8 1557.0 979.7 1557.3 980.5 1558.5"/><path d="M974.0 1564.0C974.9 1560.8 977.8 1559.3 981.0 1559.8C982.9 1560.8 982.2 1563.3 984.1 1564.3C984.7 1567.1 982.2 1568.4 981.0 1569.0C977.2 1569.0 974.0 1567.1 974.0 1564.0Z"/><path d="M981.2 1569.1C979.1 1572.8 977.8 1577.2 977.9 1581.0C975.9 1584.2 972.1 1585.4 967.7 1585.1"/><path d="M977.9 1581.0C974.9 1587.3 972.1 1594.3 969.8 1601.5"/><path d="M979.9 1573.4C982.9 1576.6 986.0 1579.7 987.5 1583.8M983.7 1583.8C984.1 1587.3 984.7 1590.5 984.5 1592.6M987.5 1583.8L987.5 1591.1M979.1 1581.6C981.6 1582.9 983.5 1583.5 984.7 1583.8"/><path d="M973.4 1606.3C974.0 1601.2 975.3 1593.6 979.1 1581.0"/><path d="M973.4 1585.1C972.1 1588.6 969.6 1591.1 967.1 1592.4"/></g><g fill="none" stroke="#fff" stroke-width="0.9" stroke-linecap="round"><path d="M957.2 1567.1C959.5 1564.3 962.0 1563.1 964.8 1562.7"/><path d="M960.8 1557.3L962.0 1561.1"/><path d="M960.5 1584.5L965.8 1585.1L967.1 1591.1M960.5 1588.1L965.8 1587.1"/><path d="M971.1 1594.6L969.3 1601.5"/></g>
<g fill="none" stroke="#e02626" stroke-linecap="round" stroke-width="1.7"><path d="M1046.0 1620.2C1046.4 1621.2 1047.6 1623.5 1048.0 1626.0C1048.4 1628.6 1048.3 1631.0 1048.2 1634.3C1048.1 1637.5 1047.9 1640.5 1047.5 1644.0C1047.1 1647.5 1046.5 1650.2 1046.0 1653.7C1045.5 1657.2 1044.9 1659.9 1044.6 1663.4C1044.2 1666.9 1044.0 1669.6 1044.1 1673.1C1044.2 1676.6 1044.3 1679.3 1045.0 1682.8C1045.7 1686.3 1046.7 1689.0 1048.0 1692.5C1049.2 1696.0 1050.5 1698.7 1051.8 1702.2C1053.2 1705.7 1054.1 1708.2 1055.2 1711.9C1056.4 1715.7 1057.6 1721.1 1058.2 1723.1"/><path d="M1049.4 1618.3C1049.5 1619.4 1049.7 1622.1 1049.9 1624.6C1050.1 1627.0 1050.4 1629.0 1050.4 1631.8C1050.4 1634.6 1049.7 1637.0 1049.9 1640.1C1050.1 1643.2 1051.3 1646.0 1051.4 1648.8C1051.4 1651.7 1050.8 1653.5 1050.4 1656.1C1050.0 1658.7 1049.2 1660.3 1048.9 1663.4C1048.6 1666.5 1048.4 1669.6 1048.7 1673.1C1049.0 1676.6 1049.6 1679.8 1050.4 1682.8C1051.1 1685.9 1052.0 1687.5 1052.8 1690.1C1053.6 1692.7 1054.1 1694.3 1054.8 1697.4C1055.4 1700.4 1055.6 1703.6 1056.2 1707.1C1056.8 1710.6 1057.7 1714.0 1058.2 1716.8C1058.6 1719.6 1058.6 1721.6 1058.6 1722.6"/><path d="M1050.4 1617.8C1050.9 1618.6 1052.5 1620.5 1053.3 1622.6C1054.1 1624.7 1054.4 1626.4 1054.8 1629.4C1055.1 1632.4 1055.3 1635.6 1055.2 1639.1C1055.2 1642.6 1054.7 1645.3 1054.3 1648.8C1053.8 1652.3 1053.2 1655.5 1052.8 1658.5C1052.5 1661.6 1052.3 1662.8 1052.3 1665.8C1052.3 1668.9 1052.3 1672.0 1052.8 1675.5C1053.3 1679.0 1054.3 1681.7 1055.2 1685.2C1056.2 1688.7 1057.4 1691.5 1058.2 1695.0C1058.9 1698.4 1059.3 1701.2 1059.6 1704.7C1059.9 1708.2 1059.8 1711.3 1059.6 1714.4C1059.4 1717.4 1058.8 1720.3 1058.6 1721.7"/></g><g fill="none" stroke="#dc2a2a" stroke-linecap="round" stroke-width="1.0"><path d="M1054.3 1623.6C1054.8 1624.2 1056.4 1625.5 1057.2 1627.0C1058.0 1628.5 1058.2 1629.7 1058.6 1631.8C1059.1 1634.0 1059.6 1637.8 1059.9 1639.1"/><path d="M1047.0 1627.0C1046.5 1627.4 1044.9 1628.1 1044.1 1629.4C1043.2 1630.7 1042.0 1633.2 1042.4 1634.3C1042.7 1635.3 1045.4 1635.1 1046.0 1635.2"/><path d="M1046.0 1635.2C1045.6 1635.9 1044.1 1637.6 1043.6 1639.1C1043.1 1640.6 1043.2 1642.7 1043.1 1643.5"/><path d="M1049.4 1646.9C1048.6 1647.4 1046.2 1648.6 1045.0 1649.8C1043.9 1651.0 1043.6 1652.2 1043.1 1653.7C1042.6 1655.2 1042.3 1657.3 1042.1 1658.1"/><path d="M1051.4 1661.0C1052.1 1661.7 1054.5 1663.1 1055.7 1664.9C1057.0 1666.6 1057.6 1668.1 1058.2 1670.7C1058.7 1673.2 1058.6 1677.4 1058.6 1678.9"/><path d="M1046.0 1683.8C1046.6 1686.2 1048.2 1692.7 1049.4 1697.4C1050.6 1702.0 1051.4 1704.7 1052.8 1709.5C1054.2 1714.3 1056.4 1721.5 1057.2 1724.1"/><path d="M1054.3 1695.0C1054.1 1696.3 1053.3 1699.3 1053.3 1702.2C1053.3 1705.1 1054.1 1709.4 1054.3 1711.0"/><path d="M1050.4 1701.3C1051.6 1702.7 1055.6 1706.3 1057.2 1709.5C1058.8 1712.7 1058.8 1717.5 1059.1 1719.2"/><path d="M1055.2 1709.5C1055.5 1710.8 1056.0 1713.9 1056.5 1716.8C1056.9 1719.7 1057.5 1724.0 1057.7 1725.5"/><path d="M1045.5 1620.4C1045.8 1621.2 1046.3 1623.6 1047.0 1624.6C1047.7 1625.6 1049.0 1625.8 1049.4 1626.0"/><path d="M1051.4 1640.1C1051.6 1640.8 1052.3 1642.8 1052.8 1644.0C1053.3 1645.2 1054.0 1646.4 1054.3 1646.9"/></g>
</svg>
<div class="b" style="left:470px;top:1956px;width:980px;height:804px;background:#fff;border-radius:3px;box-shadow:0 1px 5px rgba(0,0,0,.09);overflow:hidden;"></div>
<span class="t" style="top:1972.76px;font-size:18px;color:#1c1c1c;font-weight:700;letter-spacing:0.5px;left:500.00px;">Indicators</span>
<div class="b" style="left:470px;top:2007px;width:980px;height:91px;background:#7072da;"></div>
<span class="t" style="top:2035.26px;font-size:16px;color:#fff;font-weight:700;letter-spacing:0.23px;left:500.00px;">Energy level</span>
<span class="t" style="top:2056.96px;font-size:16px;color:#f4f4ff;letter-spacing:0.55px;left:500.00px;">Below normal</span>
<span class="t" style="top:2047.93px;font-size:36px;color:#fff;font-weight:700;letter-spacing:1.5px;right:527.00px;">19.74</span>
<svg class="b" style="left:1414px;top:2047px" width="14" height="12" viewBox="0 0 14 12"><path d="M3 4L7 8L11 4" fill="none" stroke="#fff" stroke-width="1.5"/></svg>
<div class="b" style="left:470px;top:2099px;width:980px;height:91px;background:#00be5d;"></div>
<span class="t" style="top:2127.26px;font-size:16px;color:#fff;font-weight:700;letter-spacing:1.1px;left:500.00px;">Immunity</span>
<span class="t" style="top:2148.96px;font-size:16px;color:#f4f4ff;left:500.00px;">Fine</span>
<span class="t" style="top:2139.93px;font-size:36px;color:#fff;font-weight:700;letter-spacing:1.7px;right:526.80px;">20.15</span>
<svg class="b" style="left:1414px;top:2139px" width="14" height="12" viewBox="0 0 14 12"><path d="M3 4L7 8L11 4" fill="none" stroke="#fff" stroke-width="1.5"/></svg>
<div class="b" style="left:470px;top:2191px;width:980px;height:91px;background:#7072da;"></div>
<span class="t" style="top:2219.26px;font-size:16px;color:#fff;font-weight:700;letter-spacing:0.96px;left:500.00px;">Metabolism</span>
<span class="t" style="top:2240.96px;font-size:16px;color:#f4f4ff;letter-spacing:0.55px;left:500.00px;">Below normal</span>
<span class="t" style="top:2231.93px;font-size:36px;color:#fff;font-weight:700;letter-spacing:1.2px;right:527.30px;">1.05</span>
<svg class="b" style="left:1414px;top:2231px" width="14" height="12" viewBox="0 0 14 12"><path d="M3 4L7 8L11 4" fill="none" stroke="#fff" stroke-width="1.5"/></svg>
<div class="b" style="left:470px;top:2283px;width:980px;height:91px;background:#7072da;"></div>
<span class="t" style="top:2311.26px;font-size:16px;color:#fff;font-weight:700;letter-spacing:0.48px;left:500.00px;">Psycho-emotional state</span>
<span class="t" style="top:2332.96px;font-size:16px;color:#f4f4ff;letter-spacing:0.55px;left:500.00px;">Below normal</span>
<span class="t" style="top:2323.93px;font-size:36px;color:#fff;font-weight:700;letter-spacing:1.4px;right:527.10px;">0.83</span>
<svg class="b" style="left:1414px;top:2323px" width="14" height="12" viewBox="0 0 14 12"><path d="M3 4L7 8L11 4" fill="none" stroke="#fff" stroke-width="1.5"/></svg>
<div class="b" style="left:470px;top:2375px;width:980px;height:91px;background:#00be5d;"></div>
<span class="t" style="top:2403.26px;font-size:16px;color:#fff;font-weight:700;letter-spacing:0.55px;left:500.00px;">Musculoskeletal system</span>
<span class="t" style="top:2424.96px;font-size:16px;color:#f4f4ff;left:500.00px;">Fine</span>
<span class="t" style="top:2415.93px;font-size:36px;color:#fff;font-weight:700;letter-spacing:1.2px;right:527.30px;">1.00</span>
<svg class="b" style="left:1414px;top:2415px" width="14" height="12" viewBox="0 0 14 12"><path d="M3 4L7 8L11 4" fill="none" stroke="#fff" stroke-width="1.5"/></svg>
<span class="t" style="top:2488.57px;font-size:20px;color:#3a3a3a;font-weight:700;letter-spacing:0.2px;left:500.00px;">Average value</span>
<span class="t" style="top:2483.41px;font-size:32px;color:#333;font-weight:700;letter-spacing:1.0px;right:499.00px;">19.74</span>
<div class="b" style="left:470px;top:2529px;width:980px;height:58px;background:#f0efee;"></div>
<div class="b" style="left:470px;top:2645px;width:980px;height:58px;background:#f0efee;"></div>
<span class="t" style="top:2539.95px;font-size:14px;color:#555;letter-spacing:0.35px;left:500.00px;">φ L</span>
<span class="t" style="top:2559.61px;font-size:17px;color:#333;font-weight:700;letter-spacing:0.35px;left:500.00px;">242.40</span>
<span class="t" style="top:2539.95px;font-size:14px;color:#555;letter-spacing:0.35px;left:730.00px;">φ R</span>
<span class="t" style="top:2559.61px;font-size:17px;color:#333;font-weight:700;letter-spacing:0.35px;left:730.00px;">231.35</span>
<span class="t" style="top:2539.95px;font-size:14px;color:#555;letter-spacing:0.35px;right:730.65px;">(+)473.75</span>
<span class="t" style="top:2559.61px;font-size:17px;color:#333;font-weight:700;letter-spacing:0.35px;right:730.65px;">(/)1.05</span>
<span class="t" style="top:2539.95px;font-size:14px;color:#555;letter-spacing:0.35px;right:499.65px;">Norm</span>
<span class="t" style="top:2559.61px;font-size:17px;color:#333;font-weight:700;letter-spacing:0.35px;right:499.65px;">0.9-1.1</span>
<span class="t" style="top:2597.95px;font-size:14px;color:#555;letter-spacing:0.35px;left:500.00px;">Left</span>
<span class="t" style="top:2617.61px;font-size:17px;color:#333;font-weight:700;letter-spacing:0.35px;left:500.00px;">236.47</span>
<span class="t" style="top:2597.95px;font-size:14px;color:#555;letter-spacing:0.35px;left:730.00px;">Right</span>
<span class="t" style="top:2617.61px;font-size:17px;color:#333;font-weight:700;letter-spacing:0.35px;left:730.00px;">237.29</span>
<span class="t" style="top:2597.95px;font-size:14px;color:#555;letter-spacing:0.35px;right:730.65px;">L/R</span>
<span class="t" style="top:2617.61px;font-size:17px;color:#333;font-weight:700;letter-spacing:0.35px;right:730.65px;">1.00</span>
<span class="t" style="top:2597.95px;font-size:14px;color:#555;letter-spacing:0.35px;right:499.65px;">Norm</span>
<span class="t" style="top:2617.61px;font-size:17px;color:#333;font-weight:700;letter-spacing:0.35px;right:499.65px;">0.9-1.2</span>
<span class="t" style="top:2655.95px;font-size:14px;color:#555;letter-spacing:0.35px;left:500.00px;">Up</span>
<span class="t" style="top:2675.61px;font-size:17px;color:#333;font-weight:700;letter-spacing:0.35px;left:500.00px;">214.88</span>
<span class="t" style="top:2655.95px;font-size:14px;color:#555;letter-spacing:0.35px;left:730.00px;">Down</span>
<span class="t" style="top:2675.61px;font-size:17px;color:#333;font-weight:700;letter-spacing:0.35px;left:730.00px;">258.87</span>
<span class="t" style="top:2655.95px;font-size:14px;color:#555;letter-spacing:0.35px;right:730.65px;">Up/Down</span>
<span class="t" style="top:2675.61px;font-size:17px;color:#333;font-weight:700;letter-spacing:0.35px;right:730.65px;">0.83</span>
<span class="t" style="top:2655.95px;font-size:14px;color:#555;letter-spacing:0.35px;right:499.65px;">Norm</span>
<span class="t" style="top:2675.61px;font-size:17px;color:#333;font-weight:700;letter-spacing:0.35px;right:499.65px;">0.9-1.2</span>
<span class="t" style="top:2713.95px;font-size:14px;color:#555;letter-spacing:0.35px;left:500.00px;">L2</span>
<span class="t" style="top:2733.61px;font-size:17px;color:#333;font-weight:700;letter-spacing:0.35px;left:500.00px;">15.80</span>
<span class="t" style="top:2713.95px;font-size:14px;color:#555;letter-spacing:0.35px;left:730.00px;">L1</span>
<span class="t" style="top:2733.61px;font-size:17px;color:#333;font-weight:700;letter-spacing:0.35px;left:730.00px;">11.90</span>
<span class="t" style="top:2713.95px;font-size:14px;color:#555;letter-spacing:0.35px;right:730.65px;">H1</span>
<span class="t" style="top:2733.61px;font-size:17px;color:#333;font-weight:700;letter-spacing:0.35px;right:730.65px;">28.53</span>
<span class="t" style="top:2713.95px;font-size:14px;color:#555;letter-spacing:0.35px;right:499.65px;">H2</span>
<span class="t" style="top:2733.61px;font-size:17px;color:#333;font-weight:700;letter-spacing:0.35px;right:499.65px;">24.14</span>
<div class="b" style="left:470px;top:2780px;width:980px;height:1348px;background:#fff;border-radius:3px;box-shadow:0 1px 5px rgba(0,0,0,.09);overflow:hidden;"></div>
<span class="t" style="top:2797.76px;font-size:18px;color:#1c1c1c;font-weight:700;letter-spacing:0.5px;left:500.00px;">Recommendations</span>
<div class="b" style="left:470px;top:2831px;width:980px;height:1px;background:#ececec;"></div>
<span class="t" style="top:2878.61px;font-size:17px;color:#3a37e6;font-weight:700;letter-spacing:0.2px;left:730.10px;transform:translateX(-50%);">Bladder</span>
<span class="t" style="top:2878.61px;font-size:17px;color:#fc5631;font-weight:700;letter-spacing:0.2px;left:1190.30px;transform:translateX(-50%);">Liver</span>
<div class="b" style="left:692.0px;top:3048.0px;width:12px;height:48.0px;background:#3a37e6;border-radius:6px;"></div>
<div class="b" style="left:724.0px;top:3006.4px;width:12px;height:89.6px;background:#00be5d;border-radius:6px;"></div>
<div class="b" style="left:756.0px;top:3023.0px;width:12px;height:73.0px;background:#3a37e6;border-radius:6px;"></div>
<span class="t" style="top:2990.60px;font-size:13px;color:#00be5d;left:730.00px;transform:translateX(-50%);">N</span>
<span class="t" style="top:3051.15px;font-size:14px;color:#3a37e6;right:1233.40px;">6</span>
<span class="t" style="top:3025.85px;font-size:14px;color:#3a37e6;left:773.40px;">4</span>
<span class="t" style="top:3079.65px;font-size:14px;color:#3a37e6;letter-spacing:0.5px;right:1232.90px;">left</span>
<span class="t" style="top:3079.65px;font-size:14px;color:#3a37e6;letter-spacing:0.6px;left:773.40px;">right</span>
<div class="b" style="left:1152.2px;top:2997.3px;width:12px;height:98.7px;background:#fc5631;border-radius:6px;"></div>
<div class="b" style="left:1184.2px;top:3006.4px;width:12px;height:89.6px;background:#00be5d;border-radius:6px;"></div>
<div class="b" style="left:1216.2px;top:2978.0px;width:12px;height:118.0px;background:#fc5631;border-radius:6px;"></div>
<span class="t" style="top:2990.60px;font-size:13px;color:#00be5d;left:1190.20px;transform:translateX(-50%);">N</span>
<span class="t" style="top:2999.95px;font-size:14px;color:#fc5631;right:773.20px;">46</span>
<span class="t" style="top:2980.75px;font-size:14px;color:#fc5631;left:1233.60px;">39</span>
<span class="t" style="top:3079.65px;font-size:14px;color:#fc5631;letter-spacing:0.5px;right:772.70px;">left</span>
<span class="t" style="top:3079.65px;font-size:14px;color:#fc5631;letter-spacing:0.6px;left:1233.60px;">right</span>
<span class="t" style="top:3118.75px;font-size:14px;color:#3a37e6;font-weight:700;letter-spacing:0.15px;left:730.08px;transform:translateX(-50%);">Insufficiency</span>
<span class="t" style="top:3118.75px;font-size:14px;color:#fc5631;font-weight:700;letter-spacing:0.36px;left:1190.38px;transform:translateX(-50%);">Hyperactivity</span>
<span class="t" style="top:3188.15px;font-size:14px;color:#1a1a1a;letter-spacing:0.6px;left:960.30px;transform:translateX(-50%);">The organ that is most often in the greatest insufficiency requires the greatest attention.</span>
<span class="t" style="top:3208.15px;font-size:14px;color:#1a1a1a;letter-spacing:0.54px;left:960.27px;transform:translateX(-50%);">An organ in a state of hyperactivity is compensatory; your observation is recommended. As a rule, no action is required.</span>
<span class="t" style="top:3245.15px;font-size:14px;color:#1a1a1a;letter-spacing:0.48px;left:960.24px;transform:translateX(-50%);">If you observe an organ metric below 15% for several days, you should consult a doctor.</span>
<div class="b" style="left:470px;top:3297px;width:980px;height:1px;background:#ececec;"></div>
<div class="b" style="left:470px;top:3387px;width:980px;height:1px;background:#ececec;"></div>
<div class="b" style="left:470px;top:3477px;width:980px;height:1px;background:#ececec;"></div>
<div class="b" style="left:470px;top:3558px;width:980px;height:1px;background:#ececec;"></div>
<div class="b" style="left:470px;top:3639px;width:980px;height:1px;background:#ececec;"></div>
<div class="b" style="left:470px;top:3720px;width:980px;height:1px;background:#ececec;"></div>
<div class="b" style="left:470px;top:3801px;width:980px;height:1px;background:#ececec;"></div>
<div class="b" style="left:470px;top:3882px;width:980px;height:1px;background:#ececec;"></div>
<div class="b" style="left:470px;top:3963px;width:980px;height:1px;background:#ececec;"></div>
<span class="t" style="top:3335.31px;font-size:17px;color:#111;letter-spacing:0.67px;left:559.80px;-webkit-text-stroke:0.55px #111;">Insufficiency</span>
<svg class="b" style="left:1414px;top:3336.5px" width="14" height="12" viewBox="0 0 14 12"><path d="M3.3 4.3L7 8.1L10.7 4.3" fill="none" stroke="#1a1a1a" stroke-width="1.6"/></svg>
<span class="t" style="top:3425.31px;font-size:17px;color:#111;letter-spacing:0.86px;left:559.80px;-webkit-text-stroke:0.55px #111;">Hyperactivity</span>
<svg class="b" style="left:1414px;top:3426.5px" width="14" height="12" viewBox="0 0 14 12"><path d="M3.3 4.3L7 8.1L10.7 4.3" fill="none" stroke="#1a1a1a" stroke-width="1.6"/></svg>
<span class="t" style="top:3510.91px;font-size:17px;color:#111;letter-spacing:0.52px;left:559.80px;-webkit-text-stroke:0.55px #111;">Diet</span>
<svg class="b" style="left:1414px;top:3512.1px" width="14" height="12" viewBox="0 0 14 12"><path d="M3.3 4.3L7 8.1L10.7 4.3" fill="none" stroke="#1a1a1a" stroke-width="1.6"/></svg>
<span class="t" style="top:3592.31px;font-size:17px;color:#111;letter-spacing:0.85px;left:559.80px;-webkit-text-stroke:0.55px #111;">Dietary recommendations</span>
<svg class="b" style="left:1414px;top:3593.5px" width="14" height="12" viewBox="0 0 14 12"><path d="M3.3 4.3L7 8.1L10.7 4.3" fill="none" stroke="#1a1a1a" stroke-width="1.6"/></svg>
<span class="t" style="top:3673.31px;font-size:17px;color:#111;letter-spacing:-0.14px;left:559.80px;-webkit-text-stroke:0.55px #111;">Food</span>
<svg class="b" style="left:1414px;top:3674.5px" width="14" height="12" viewBox="0 0 14 12"><path d="M3.3 4.3L7 8.1L10.7 4.3" fill="none" stroke="#1a1a1a" stroke-width="1.6"/></svg>
<span class="t" style="top:3754.31px;font-size:17px;color:#111;letter-spacing:0.19px;left:559.80px;-webkit-text-stroke:0.55px #111;">Exclude</span>
<svg class="b" style="left:1414px;top:3755.5px" width="14" height="12" viewBox="0 0 14 12"><path d="M3.3 4.3L7 8.1L10.7 4.3" fill="none" stroke="#1a1a1a" stroke-width="1.6"/></svg>
<span class="t" style="top:3835.31px;font-size:17px;color:#111;letter-spacing:0.79px;left:559.80px;-webkit-text-stroke:0.55px #111;">General recommendations</span>
<svg class="b" style="left:1414px;top:3836.5px" width="14" height="12" viewBox="0 0 14 12"><path d="M3.3 4.3L7 8.1L10.7 4.3" fill="none" stroke="#1a1a1a" stroke-width="1.6"/></svg>
<span class="t" style="top:3916.31px;font-size:17px;color:#111;letter-spacing:0.27px;left:559.80px;-webkit-text-stroke:0.55px #111;">Physical exercise</span>
<svg class="b" style="left:1414px;top:3917.5px" width="14" height="12" viewBox="0 0 14 12"><path d="M3.3 4.3L7 8.1L10.7 4.3" fill="none" stroke="#1a1a1a" stroke-width="1.6"/></svg>
<span class="t" style="top:3996.81px;font-size:17px;color:#111;letter-spacing:0.96px;left:559.80px;-webkit-text-stroke:0.55px #111;">Additional recommendations</span>
<svg class="b" style="left:1414px;top:3998.0px" width="14" height="12" viewBox="0 0 14 12"><path d="M3.3 4.3L7 8.1L10.7 4.3" fill="none" stroke="#1a1a1a" stroke-width="1.6"/></svg>
<div class="b" style="left:470px;top:4044.5px;width:980px;height:83.8px;background:#fb0409;border-radius:0 0 3px 3px;"></div>
<span class="t" style="top:4062.00px;font-size:13px;color:#fff;letter-spacing:0.2px;left:559.50px;">Always seek the advice of your physician or other qualified health care provider with any questions you may have regarding a medical condition</span>
<span class="t" style="top:4080.25px;font-size:13px;color:#fff;letter-spacing:0.2px;left:559.50px;">or treatment and before undertaking a new health care regimen, and never disregard professional medical advice or delay in seeking it because</span>
<span class="t" style="top:4098.50px;font-size:13px;color:#fff;letter-spacing:0.2px;left:559.50px;">of something you have read on this ...</span>
<svg class="b" style="left:470px;top:2780px" width="980" height="1348" viewBox="470 2780 980 1348">
<g transform="translate(709.60,2912.20) scale(2.04)" fill="none" stroke="#3a37e6" stroke-linecap="round" stroke-linejoin="round"><path d="M3.6 0.4V7.4C3.6 8 3.8 8.4 4.2 8.8M16.4 0.4V7.4C16.4 8 16.2 8.4 15.8 8.8" stroke-width="0.74"/><path d="M10 6.8C6 6.8 3.4 9 3.4 11.8C3.4 14.4 5.6 16.2 8.4 16.8L9.2 19C9.6 20 10.4 20 10.8 19L11.6 16.8C14.4 16.2 16.6 14.4 16.6 11.8C16.6 9 14 6.8 10 6.8Z" stroke-width="0.74"/></g>
<g transform="translate(1169.90,2918.80) scale(1.97)" fill="none" stroke="#fc5631" stroke-linecap="round" stroke-linejoin="round"><path d="M0.6 1.6C0.4 1 1 0.4 2 0.4C6 0 12 0 15.6 0.6C18.4 1 19.8 3 19.8 6C19.8 9 19.6 11.6 19 13.6C18.6 14.8 17.6 15 16.6 14.4C13.6 12.6 10.4 10.8 7.4 8.8C4.6 6.8 2 4.2 0.6 1.6Z" stroke-width="0.80"/><path d="M8.6 0.4C9 3.6 8.8 6.6 8 9.2M12.4 0.4C10.4 2.4 9 5.4 8.6 8M12.6 12.2C13 13.8 15.2 14.6 16.4 14.2" stroke-width="0.72"/></g>
<g transform="translate(503.30,3320.50) scale(1.35)" fill="none" stroke="#3a37e6" stroke-linecap="round" stroke-linejoin="round"><path d="M3.6 0.4V7.4C3.6 8 3.8 8.4 4.2 8.8M16.4 0.4V7.4C16.4 8 16.2 8.4 15.8 8.8" stroke-width="0.80"/><path d="M10 6.8C6 6.8 3.4 9 3.4 11.8C3.4 14.4 5.6 16.2 8.4 16.8L9.2 19C9.6 20 10.4 20 10.8 19L11.6 16.8C14.4 16.2 16.6 14.4 16.6 11.8C16.6 9 14 6.8 10 6.8Z" stroke-width="0.80"/></g>
<g fill="none" stroke="#3a37e6" stroke-width="1" stroke-linecap="round"><path d="M509.4 3350L503.6 3355.6M503.4 3351.6V3355.8H507.6" /><path d="M519 3351L507 3363M506.6 3358.6V3363.4H511.4" stroke-dasharray="4.4 2.6"/><path d="M528.8 3351.2L516.6 3363M516.2 3358.6V3363.4H521" stroke-dasharray="4.4 2.6"/></g>
<g transform="translate(499.30,3428.00) scale(1.72)" fill="none" stroke="#e8144c" stroke-linecap="round" stroke-linejoin="round"><path d="M0.6 1.6C0.4 1 1 0.4 2 0.4C6 0 12 0 15.6 0.6C18.4 1 19.8 3 19.8 6C19.8 9 19.6 11.6 19 13.6C18.6 14.8 17.6 15 16.6 14.4C13.6 12.6 10.4 10.8 7.4 8.8C4.6 6.8 2 4.2 0.6 1.6Z" stroke-width="0.80"/><path d="M8.6 0.4C9 3.6 8.8 6.6 8 9.2M12.4 0.4C10.4 2.4 9 5.4 8.6 8M12.6 12.2C13 13.8 15.2 14.6 16.4 14.2" stroke-width="0.72"/></g>
<g fill="none" stroke="#e8144c" stroke-width="1" stroke-linecap="round"><path d="M505.6 3423.6L517.6 3411.6M513.4 3411.4H517.8V3415.8" stroke-dasharray="4.4 2.6"/><path d="M514.6 3423.6L526.6 3411.6M522.4 3411.4H526.8V3415.8" stroke-dasharray="4.4 2.6"/><path d="M524 3424.4L529.8 3418.8M525.8 3418.6H530V3422.8"/></g>
<g fill="none" stroke="#e8590c" stroke-width="1.9" stroke-linecap="round"><ellipse cx="508.6" cy="3511.2" rx="6.8" ry="8.6"/><path d="M508.4 3520.4V3533.6M527.1 3516.6V3533.6M521.6 3502V3510.4C521.6 3518.6 532.6 3518.6 532.6 3510.4V3502M527.1 3502V3516"/></g>
<g transform="translate(503.6,3582.2)" fill="none" stroke="#e8590c" stroke-width="1.5" stroke-linejoin="round"><path d="M3.4 0.8H18.6L26.2 8.4V29.6A2.8 2.8 0 0 1 23.4 32.4H3.4A2.8 2.8 0 0 1 0.8 29.6V3.6A2.8 2.8 0 0 1 3.4 0.8Z"/><path d="M6 23.4H21" stroke-width="1" opacity="0.8"/><path d="M6 26.8H21" stroke-width="1" opacity="0.45"/><g stroke-width="0.9"><path d="M8.6 8.6V12.2C8.6 14.8 12.2 14.8 12.2 12.2V8.6M10.4 8.6V19.6"/><ellipse cx="17" cy="11.6" rx="2.2" ry="2.8"/><path d="M17 14.4V19.6"/></g></g><g fill="none" stroke="#e8590c" stroke-width="1.1" stroke-linecap="round" stroke-linejoin="round" transform="translate(0,0)"><path d="M505.6 3664.2H513.4V3668.4H505.6ZM505.8 3668.6C504 3671 503.2 3672.6 503.2 3675V3691C503.2 3693 504.4 3694.2 506.6 3694.2M513.2 3668.6C515 3671 516 3673 516 3676V3678M511.6 3671C512.6 3673 513 3675 513 3678M501.8 3668.4L504.6 3666.6M502.4 3665.4L504.8 3667.8"/><ellipse cx="524.2" cy="3670.4" rx="7.2" ry="2.2"/><path d="M517 3670.4V3673.6C519 3675 529 3675 531.4 3673.6V3670.4M518.4 3674.6L519.6 3680M530 3674.6L529 3679.6"/><ellipse cx="520.6" cy="3684.4" rx="10.8" ry="3.6"/><path d="M509.8 3684.4V3693C513 3696.8 528 3696.8 531.4 3693V3684.4M509.8 3688.2C513 3691.8 528 3691.8 531.4 3688.2M515 3684.6C517 3682.6 520 3683.6 521.6 3682.4C523 3681 526 3681.6 527 3683.6M517.4 3685.4H518.6M522.4 3685.4H524"/></g>
<g transform="translate(503.6,3744.2)" fill="none" stroke="#e8590c" stroke-width="1.5" stroke-linejoin="round"><path d="M3.4 0.8H18.6L26.2 8.4V29.6A2.8 2.8 0 0 1 23.4 32.4H3.4A2.8 2.8 0 0 1 0.8 29.6V3.6A2.8 2.8 0 0 1 3.4 0.8Z"/><path d="M6 23.4H21" stroke-width="1" opacity="0.8"/><path d="M6 26.8H21" stroke-width="1" opacity="0.45"/><path d="M9.6 9L18 18.4M18 9L9.6 18.4" stroke-width="1.1"/></g><g fill="none" stroke="#e8590c" stroke-width="1.5" stroke-linejoin="round" stroke-linecap="round"><path d="M518 3830.4H523.2V3842.4M507 3830.4H501.8V3856.2H516.4M507 3832.8V3829.4H509.6C509.8 3824.4 515.2 3824.4 515.4 3829.4H518V3832.8Z"/><path d="M522.4 3858L514.6 3850.4C511.6 3846.6 514.6 3841.6 518.6 3842.6C520.4 3843 521.6 3844 522.4 3845.6C523.2 3844 524.4 3843 526.2 3842.6C530.2 3841.6 533.2 3846.6 530.2 3850.4Z" fill="#fff"/><path d="M518.6 3850H520.6L522 3847L523.6 3852L525 3849L526 3850H531" stroke-width="1.1"/></g>
<g transform="translate(503.6,3906.2)" fill="none" stroke="#e8590c" stroke-width="1.5" stroke-linejoin="round"><path d="M3.4 0.8H18.6L26.2 8.4V29.6A2.8 2.8 0 0 1 23.4 32.4H3.4A2.8 2.8 0 0 1 0.8 29.6V3.6A2.8 2.8 0 0 1 3.4 0.8Z"/><path d="M6 23.4H21" stroke-width="1" opacity="0.8"/><path d="M6 26.8H21" stroke-width="1" opacity="0.45"/><circle cx="13.5" cy="8.4" r="1.3" fill="#e8590c" stroke="none"/><path d="M8.6 11H18.4M13.5 11V14.4L10 19.4M13.5 14.4L17 19.4" stroke-width="1.1"/></g><g transform="translate(503.6,3987.2)" fill="none" stroke="#e8590c" stroke-width="1.5" stroke-linejoin="round"><path d="M3.4 0.8H18.6L26.2 8.4V29.6A2.8 2.8 0 0 1 23.4 32.4H3.4A2.8 2.8 0 0 1 0.8 29.6V3.6A2.8 2.8 0 0 1 3.4 0.8Z"/><path d="M6 23.4H21" stroke-width="1" opacity="0.8"/><path d="M6 26.8H21" stroke-width="1" opacity="0.45"/><circle cx="13.4" cy="12" r="5.4" fill="#e8590c" stroke="none"/><path d="M10.6 11.8L12.8 14L16.4 10.2" stroke="#fff" stroke-width="1.1"/></g><circle cx="517" cy="4087.1" r="13.9" fill="#fff"/><path d="M517 4079.6V4088.6" stroke="#fb0409" stroke-width="2.8"/><circle cx="517" cy="4092.6" r="1.6" fill="#fb0409"/>
</svg>
</div></body></html>
